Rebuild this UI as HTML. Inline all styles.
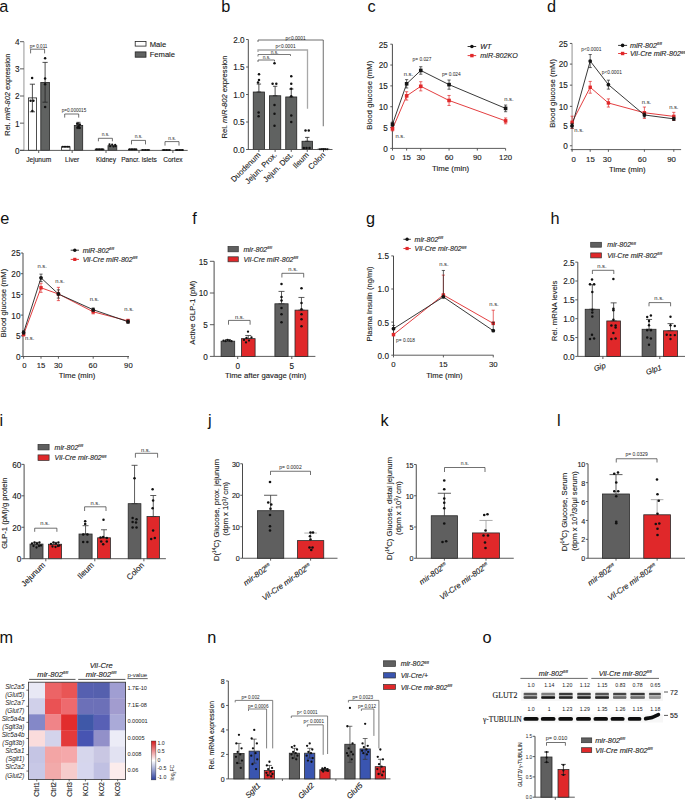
<!DOCTYPE html><html><head><meta charset="utf-8"><title>Figure</title>
<style>html,body{margin:0;padding:0;background:#fff;overflow:hidden;}svg{display:block;}text{font-family:"Liberation Sans",sans-serif;}text.s{stroke:#1a1a1a;stroke-width:0.12px;stroke-linejoin:round;}</style></head><body>
<svg width="685" height="800" viewBox="0 0 685 800">
<rect width="685" height="800" fill="#fff"/>
<text x="-0.8" y="11.7" font-size="16.3" fill="#111">a</text>
<line x1="23.9" y1="41.7" x2="23.9" y2="150.3" stroke="#b4b4b4" stroke-width="1.4"/>
<line x1="20" y1="150.3" x2="23.9" y2="150.3" stroke="#4a4a4a" stroke-width="0.9"/>
<text class="s" x="19.45" y="153.75" font-size="8.2" text-anchor="end" fill="#1a1a1a">0</text>
<line x1="20" y1="123.15" x2="23.9" y2="123.15" stroke="#4a4a4a" stroke-width="0.9"/>
<text class="s" x="19.45" y="126.6" font-size="8.2" text-anchor="end" fill="#1a1a1a">1</text>
<line x1="20" y1="96" x2="23.9" y2="96" stroke="#4a4a4a" stroke-width="0.9"/>
<text class="s" x="19.45" y="99.45" font-size="8.2" text-anchor="end" fill="#1a1a1a">2</text>
<line x1="20" y1="68.85" x2="23.9" y2="68.85" stroke="#4a4a4a" stroke-width="0.9"/>
<text class="s" x="19.45" y="72.3" font-size="8.2" text-anchor="end" fill="#1a1a1a">3</text>
<line x1="20" y1="41.7" x2="23.9" y2="41.7" stroke="#4a4a4a" stroke-width="0.9"/>
<text class="s" x="19.45" y="45.15" font-size="8.2" text-anchor="end" fill="#1a1a1a">4</text>
<text class="s" transform="translate(10,94.7) rotate(-90)" font-size="7.5" text-anchor="middle" fill="#1a1a1a">Rel. <tspan font-style="italic">miR-802</tspan> expression</text>
<rect x="28.4" y="97.9" width="8.2" height="52.4" fill="#ffffff" stroke="#222" stroke-width="0.8"/>
<rect x="40.8" y="82.43" width="8.7" height="67.88" fill="#606261" stroke="#222" stroke-width="0.8"/>
<text class="s" x="38.7" y="161.68" font-size="6.6" text-anchor="middle" fill="#1a1a1a">Jejunum</text>
<rect x="61.6" y="146.77" width="8.4" height="3.53" fill="#ffffff" stroke="#222" stroke-width="0.8"/>
<rect x="74.3" y="125.59" width="8.4" height="24.71" fill="#606261" stroke="#222" stroke-width="0.8"/>
<text class="s" x="72.15" y="161.68" font-size="6.6" text-anchor="middle" fill="#1a1a1a">Liver</text>
<rect x="95.2" y="149.21" width="8.8" height="1.09" fill="#ffffff" stroke="#222" stroke-width="0.8"/>
<rect x="108" y="145.68" width="8.8" height="4.62" fill="#606261" stroke="#222" stroke-width="0.8"/>
<text class="s" x="106" y="161.68" font-size="6.6" text-anchor="middle" fill="#1a1a1a">Kidney</text>
<rect x="128.5" y="149.21" width="8.5" height="1.09" fill="#ffffff" stroke="#222" stroke-width="0.8"/>
<rect x="141" y="149.97" width="8.7" height="0.33" fill="#606261" stroke="#222" stroke-width="0.8"/>
<text class="s" x="139" y="161.68" font-size="6.6" text-anchor="middle" fill="#1a1a1a">Pancr. islets</text>
<rect x="162" y="150.08" width="8.8" height="0.22" fill="#ffffff" stroke="#222" stroke-width="0.8"/>
<rect x="175" y="150.08" width="8.6" height="0.22" fill="#606261" stroke="#222" stroke-width="0.8"/>
<text class="s" x="172.9" y="161.68" font-size="6.6" text-anchor="middle" fill="#1a1a1a">Cortex</text>
<line x1="20" y1="150.4" x2="187.7" y2="150.4" stroke="#4a4a4a" stroke-width="0.9"/>
<line x1="38.7" y1="150.4" x2="38.7" y2="153" stroke="#4a4a4a" stroke-width="0.9"/>
<line x1="72.15" y1="150.4" x2="72.15" y2="153" stroke="#4a4a4a" stroke-width="0.9"/>
<line x1="106" y1="150.4" x2="106" y2="153" stroke="#4a4a4a" stroke-width="0.9"/>
<line x1="139" y1="150.4" x2="139" y2="153" stroke="#4a4a4a" stroke-width="0.9"/>
<line x1="172.9" y1="150.4" x2="172.9" y2="153" stroke="#4a4a4a" stroke-width="0.9"/>
<line x1="32.4" y1="84.2" x2="32.4" y2="111.8" stroke="#222" stroke-width="0.8"/>
<line x1="29.8" y1="84.2" x2="35" y2="84.2" stroke="#222" stroke-width="0.8"/>
<line x1="29.8" y1="111.8" x2="35" y2="111.8" stroke="#222" stroke-width="0.8"/>
<line x1="45.1" y1="62.4" x2="45.1" y2="102.2" stroke="#222" stroke-width="0.8"/>
<line x1="42.5" y1="62.4" x2="47.7" y2="62.4" stroke="#222" stroke-width="0.8"/>
<line x1="42.5" y1="102.2" x2="47.7" y2="102.2" stroke="#222" stroke-width="0.8"/>
<circle cx="32.1" cy="78.1" r="1.25" fill="#111"/>
<circle cx="30.6" cy="100.8" r="1.25" fill="#111"/>
<circle cx="33.4" cy="100.8" r="1.25" fill="#111"/>
<circle cx="32.4" cy="111" r="1.25" fill="#111"/>
<circle cx="45.1" cy="58.3" r="1.25" fill="#111"/>
<circle cx="45.1" cy="78.6" r="1.25" fill="#111"/>
<circle cx="45.1" cy="84.2" r="1.25" fill="#111"/>
<circle cx="45.1" cy="107" r="1.25" fill="#111"/>
<circle cx="62.6" cy="146.77" r="1" fill="#111"/>
<circle cx="64.2" cy="146.77" r="1" fill="#111"/>
<circle cx="65.8" cy="146.77" r="1" fill="#111"/>
<circle cx="67.4" cy="146.77" r="1" fill="#111"/>
<circle cx="69" cy="146.77" r="1" fill="#111"/>
<line x1="78.5" y1="122.34" x2="78.5" y2="128.58" stroke="#222" stroke-width="0.8"/>
<line x1="76.5" y1="122.34" x2="80.5" y2="122.34" stroke="#222" stroke-width="0.8"/>
<line x1="76.5" y1="128.58" x2="80.5" y2="128.58" stroke="#222" stroke-width="0.8"/>
<circle cx="77.2" cy="123.69" r="1.25" fill="#111"/>
<circle cx="79.8" cy="124.51" r="1.25" fill="#111"/>
<circle cx="78.5" cy="126.41" r="1.25" fill="#111"/>
<circle cx="77.5" cy="127.49" r="1.25" fill="#111"/>
<circle cx="79.6" cy="127.77" r="1.25" fill="#111"/>
<circle cx="96.4" cy="149.21" r="1" fill="#111"/>
<circle cx="98" cy="149.21" r="1" fill="#111"/>
<circle cx="99.6" cy="149.21" r="1" fill="#111"/>
<circle cx="101.2" cy="149.21" r="1" fill="#111"/>
<circle cx="102.8" cy="149.21" r="1" fill="#111"/>
<circle cx="109.5" cy="144.33" r="1.1" fill="#111"/>
<circle cx="112.2" cy="144.6" r="1.1" fill="#111"/>
<circle cx="115.2" cy="144.87" r="1.1" fill="#111"/>
<circle cx="110.2" cy="146.23" r="1.1" fill="#111"/>
<circle cx="113.5" cy="146.5" r="1.1" fill="#111"/>
<circle cx="115.5" cy="146.23" r="1.1" fill="#111"/>
<circle cx="129.6" cy="149.21" r="1" fill="#111"/>
<circle cx="131.2" cy="149.21" r="1" fill="#111"/>
<circle cx="132.8" cy="149.21" r="1" fill="#111"/>
<circle cx="134.4" cy="149.21" r="1" fill="#111"/>
<circle cx="136" cy="149.21" r="1" fill="#111"/>
<circle cx="142.4" cy="149.97" r="0.9" fill="#111"/>
<circle cx="144" cy="149.97" r="0.9" fill="#111"/>
<circle cx="145.6" cy="149.97" r="0.9" fill="#111"/>
<circle cx="147.2" cy="149.97" r="0.9" fill="#111"/>
<circle cx="148.8" cy="149.97" r="0.9" fill="#111"/>
<circle cx="163.2" cy="150.08" r="1" fill="#111"/>
<circle cx="164.8" cy="150.08" r="1" fill="#111"/>
<circle cx="166.4" cy="150.08" r="1" fill="#111"/>
<circle cx="168" cy="150.08" r="1" fill="#111"/>
<circle cx="169.6" cy="150.08" r="1" fill="#111"/>
<circle cx="176.2" cy="150.08" r="1" fill="#111"/>
<circle cx="177.8" cy="150.08" r="1" fill="#111"/>
<circle cx="179.4" cy="150.08" r="1" fill="#111"/>
<circle cx="181" cy="150.08" r="1" fill="#111"/>
<circle cx="182.6" cy="150.08" r="1" fill="#111"/>
<polyline points="30.6,53.4 30.6,49.2 44.6,49.2 44.6,53.4" fill="none" stroke="#333" stroke-width="0.7"/>
<text x="38.6" y="47.76" font-size="4.6" text-anchor="middle" fill="#1a1a1a">p= 0.011</text>
<polyline points="64.7,117.6 64.7,114 78.7,114 78.7,117.6" fill="none" stroke="#333" stroke-width="0.7"/>
<text x="74" y="112.06" font-size="4.6" text-anchor="middle" fill="#1a1a1a">p=0.000015</text>
<polyline points="98.4,141.3 98.4,138.3 112.4,138.3 112.4,141.3" fill="none" stroke="#333" stroke-width="0.7"/>
<text x="105.5" y="136.33" font-size="4.8" text-anchor="middle" fill="#1a1a1a">n.s.</text>
<polyline points="131.5,144.4 131.5,140.4 145.5,140.4 145.5,144.4" fill="none" stroke="#333" stroke-width="0.7"/>
<text x="138.5" y="138.33" font-size="4.8" text-anchor="middle" fill="#1a1a1a">n.s.</text>
<polyline points="165,145.6 165,141.6 179,141.6 179,145.6" fill="none" stroke="#333" stroke-width="0.7"/>
<text x="172" y="139.53" font-size="4.8" text-anchor="middle" fill="#1a1a1a">n.s.</text>
<rect x="135.2" y="41.4" width="10.8" height="4.7" fill="#fff" stroke="#222" stroke-width="0.8"/>
<rect x="135.2" y="51.9" width="10.8" height="5.3" fill="#606261" stroke="#222" stroke-width="0.8"/>
<text class="s" x="149.7" y="46.54" font-size="7.6" text-anchor="start" fill="#1a1a1a">Male</text>
<text class="s" x="149.7" y="57.24" font-size="7.6" text-anchor="start" fill="#1a1a1a">Female</text>
<text x="221.2" y="11.7" font-size="16.3" fill="#111">b</text>
<line x1="248.3" y1="39.5" x2="248.3" y2="149.5" stroke="#4a4a4a" stroke-width="1.0"/>
<line x1="246.1" y1="149.5" x2="248.3" y2="149.5" stroke="#4a4a4a" stroke-width="0.9"/>
<text class="s" x="244.55" y="152.95" font-size="8.2" text-anchor="end" fill="#1a1a1a">0.0</text>
<line x1="246.1" y1="122" x2="248.3" y2="122" stroke="#4a4a4a" stroke-width="0.9"/>
<text class="s" x="244.55" y="125.45" font-size="8.2" text-anchor="end" fill="#1a1a1a">0.5</text>
<line x1="246.1" y1="94.5" x2="248.3" y2="94.5" stroke="#4a4a4a" stroke-width="0.9"/>
<text class="s" x="244.55" y="97.95" font-size="8.2" text-anchor="end" fill="#1a1a1a">1.0</text>
<line x1="246.1" y1="67" x2="248.3" y2="67" stroke="#4a4a4a" stroke-width="0.9"/>
<text class="s" x="244.55" y="70.45" font-size="8.2" text-anchor="end" fill="#1a1a1a">1.5</text>
<line x1="246.1" y1="39.5" x2="248.3" y2="39.5" stroke="#4a4a4a" stroke-width="0.9"/>
<text class="s" x="244.55" y="42.95" font-size="8.2" text-anchor="end" fill="#1a1a1a">2.0</text>
<text class="s" transform="translate(226.84,97) rotate(-90)" font-size="7.6" text-anchor="middle" fill="#1a1a1a">Rel. <tspan font-style="italic">miR-802</tspan> expression</text>
<rect x="253.25" y="92.03" width="11.25" height="57.47" fill="#606261" stroke="#222" stroke-width="0.8"/>
<line x1="258.88" y1="84.05" x2="258.88" y2="92.03" stroke="#222" stroke-width="0.8"/>
<line x1="256.68" y1="84.05" x2="261.07" y2="84.05" stroke="#222" stroke-width="0.8"/>
<line x1="256.68" y1="92.03" x2="261.07" y2="92.03" stroke="#222" stroke-width="0.8"/>
<rect x="269.5" y="95.77" width="11.25" height="53.73" fill="#606261" stroke="#222" stroke-width="0.8"/>
<line x1="275.12" y1="86.25" x2="275.12" y2="95.77" stroke="#222" stroke-width="0.8"/>
<line x1="272.93" y1="86.25" x2="277.32" y2="86.25" stroke="#222" stroke-width="0.8"/>
<line x1="272.93" y1="95.77" x2="277.32" y2="95.77" stroke="#222" stroke-width="0.8"/>
<rect x="285.75" y="96.97" width="11" height="52.53" fill="#606261" stroke="#222" stroke-width="0.8"/>
<line x1="291.25" y1="89" x2="291.25" y2="96.97" stroke="#222" stroke-width="0.8"/>
<line x1="289.05" y1="89" x2="293.45" y2="89" stroke="#222" stroke-width="0.8"/>
<line x1="289.05" y1="96.97" x2="293.45" y2="96.97" stroke="#222" stroke-width="0.8"/>
<rect x="302" y="141.25" width="10.5" height="8.25" fill="#606261" stroke="#222" stroke-width="0.8"/>
<line x1="307.25" y1="137.4" x2="307.25" y2="141.25" stroke="#222" stroke-width="0.8"/>
<line x1="305.05" y1="137.4" x2="309.45" y2="137.4" stroke="#222" stroke-width="0.8"/>
<line x1="305.05" y1="141.25" x2="309.45" y2="141.25" stroke="#222" stroke-width="0.8"/>
<rect x="318" y="149.06" width="11" height="0.44" fill="#606261" stroke="#222" stroke-width="0.8"/>
<line x1="323.5" y1="148.95" x2="323.5" y2="149.06" stroke="#222" stroke-width="0.8"/>
<line x1="321.3" y1="148.95" x2="325.7" y2="148.95" stroke="#222" stroke-width="0.8"/>
<line x1="321.3" y1="149.06" x2="325.7" y2="149.06" stroke="#222" stroke-width="0.8"/>
<line x1="248" y1="149.5" x2="332.5" y2="149.5" stroke="#4a4a4a" stroke-width="0.9"/>
<line x1="258.88" y1="149.5" x2="258.88" y2="151.9" stroke="#4a4a4a" stroke-width="0.9"/>
<line x1="275.12" y1="149.5" x2="275.12" y2="151.9" stroke="#4a4a4a" stroke-width="0.9"/>
<line x1="291.25" y1="149.5" x2="291.25" y2="151.9" stroke="#4a4a4a" stroke-width="0.9"/>
<line x1="307.25" y1="149.5" x2="307.25" y2="151.9" stroke="#4a4a4a" stroke-width="0.9"/>
<line x1="323.5" y1="149.5" x2="323.5" y2="151.9" stroke="#4a4a4a" stroke-width="0.9"/>
<text class="s" transform="translate(261.07,155.5) rotate(-45)" font-size="7.8" text-anchor="end" fill="#1a1a1a">Duodenum</text>
<text class="s" transform="translate(277.32,155.5) rotate(-45)" font-size="7.8" text-anchor="end" fill="#1a1a1a">Jejun. Prox.</text>
<text class="s" transform="translate(293.45,155.5) rotate(-45)" font-size="7.8" text-anchor="end" fill="#1a1a1a">Jejun. Dist.</text>
<text class="s" transform="translate(309.45,155.5) rotate(-45)" font-size="7.8" text-anchor="end" fill="#1a1a1a">Ileum</text>
<text class="s" transform="translate(325.7,155.5) rotate(-45)" font-size="7.8" text-anchor="end" fill="#1a1a1a">Colon</text>
<circle cx="259" cy="74.25" r="1.25" fill="#111"/>
<circle cx="259" cy="80" r="1.25" fill="#111"/>
<circle cx="258" cy="82.5" r="1.25" fill="#111"/>
<circle cx="258.6" cy="112.5" r="1.25" fill="#111"/>
<circle cx="258.6" cy="116.25" r="1.25" fill="#111"/>
<circle cx="274.5" cy="63.25" r="1.25" fill="#111"/>
<circle cx="272.6" cy="83.75" r="1.25" fill="#111"/>
<circle cx="276.3" cy="83.75" r="1.25" fill="#111"/>
<circle cx="274.5" cy="105" r="1.25" fill="#111"/>
<circle cx="274.5" cy="113.75" r="1.25" fill="#111"/>
<circle cx="274.5" cy="125.75" r="1.25" fill="#111"/>
<circle cx="291.25" cy="76.25" r="1.25" fill="#111"/>
<circle cx="291.25" cy="83.75" r="1.25" fill="#111"/>
<circle cx="291.25" cy="88.75" r="1.25" fill="#111"/>
<circle cx="291.25" cy="96.25" r="1.25" fill="#111"/>
<circle cx="291.25" cy="115.5" r="1.25" fill="#111"/>
<circle cx="291.25" cy="122" r="1.25" fill="#111"/>
<circle cx="305.5" cy="130.5" r="1.25" fill="#111"/>
<circle cx="308.75" cy="130.5" r="1.25" fill="#111"/>
<circle cx="303.8" cy="148" r="1.25" fill="#111"/>
<circle cx="306.5" cy="148" r="1.25" fill="#111"/>
<circle cx="309.5" cy="148" r="1.25" fill="#111"/>
<circle cx="320" cy="149.2" r="1" fill="#111"/>
<circle cx="321.8" cy="149.2" r="1" fill="#111"/>
<circle cx="323.6" cy="149.2" r="1" fill="#111"/>
<circle cx="325.4" cy="149.2" r="1" fill="#111"/>
<circle cx="327.2" cy="149.2" r="1" fill="#111"/>
<polyline points="258,62 258,60 274.5,60 274.5,61.5" fill="none" stroke="#404040" stroke-width="0.75"/>
<polyline points="258,56.5 258,54.5 290.5,54.5 290.5,56" fill="none" stroke="#505050" stroke-width="0.75"/>
<polyline points="258,52 258,50 307.5,50 307.5,108.75" fill="none" stroke="#a8a8a8" stroke-width="1.3"/>
<polyline points="258,42 258,40 323.25,40 323.25,126.25" fill="none" stroke="#4a4a4a" stroke-width="0.8"/>
<text x="266.5" y="59.03" font-size="4.8" text-anchor="middle" fill="#1a1a1a">n.s.</text>
<text x="274.5" y="53.73" font-size="4.8" text-anchor="middle" fill="#1a1a1a">n.s.</text>
<text x="285.5" y="48.23" font-size="4.8" text-anchor="middle" fill="#1a1a1a">p&lt;0.0001</text>
<text x="295.5" y="39.93" font-size="4.8" text-anchor="middle" fill="#1a1a1a">p&lt;0.0001</text>
<text x="367.4" y="11.7" font-size="16.3" fill="#111">c</text>
<line x1="392.4" y1="44.2" x2="392.4" y2="148.4" stroke="#4a4a4a" stroke-width="1.0"/>
<line x1="390.3" y1="148.4" x2="392.4" y2="148.4" stroke="#4a4a4a" stroke-width="0.9"/>
<text class="s" x="387.75" y="151.85" font-size="8.2" text-anchor="end" fill="#1a1a1a">0</text>
<line x1="390.3" y1="127.56" x2="392.4" y2="127.56" stroke="#4a4a4a" stroke-width="0.9"/>
<text class="s" x="387.75" y="131.01" font-size="8.2" text-anchor="end" fill="#1a1a1a">5</text>
<line x1="390.3" y1="106.72" x2="392.4" y2="106.72" stroke="#4a4a4a" stroke-width="0.9"/>
<text class="s" x="387.75" y="110.17" font-size="8.2" text-anchor="end" fill="#1a1a1a">10</text>
<line x1="390.3" y1="85.88" x2="392.4" y2="85.88" stroke="#4a4a4a" stroke-width="0.9"/>
<text class="s" x="387.75" y="89.33" font-size="8.2" text-anchor="end" fill="#1a1a1a">15</text>
<line x1="390.3" y1="65.04" x2="392.4" y2="65.04" stroke="#4a4a4a" stroke-width="0.9"/>
<text class="s" x="387.75" y="68.49" font-size="8.2" text-anchor="end" fill="#1a1a1a">20</text>
<line x1="390.3" y1="44.2" x2="392.4" y2="44.2" stroke="#4a4a4a" stroke-width="0.9"/>
<text class="s" x="387.75" y="47.65" font-size="8.2" text-anchor="end" fill="#1a1a1a">25</text>
<line x1="392.3" y1="148.4" x2="505.5" y2="148.4" stroke="#4a4a4a" stroke-width="0.9"/>
<line x1="392.5" y1="148.4" x2="392.5" y2="150.6" stroke="#4a4a4a" stroke-width="0.9"/>
<line x1="406.64" y1="148.4" x2="406.64" y2="150.6" stroke="#4a4a4a" stroke-width="0.9"/>
<line x1="420.77" y1="148.4" x2="420.77" y2="150.6" stroke="#4a4a4a" stroke-width="0.9"/>
<line x1="449.05" y1="148.4" x2="449.05" y2="150.6" stroke="#4a4a4a" stroke-width="0.9"/>
<line x1="477.32" y1="148.4" x2="477.32" y2="150.6" stroke="#4a4a4a" stroke-width="0.9"/>
<line x1="505.6" y1="148.4" x2="505.6" y2="150.6" stroke="#4a4a4a" stroke-width="0.9"/>
<text class="s" x="392.5" y="160.41" font-size="7.8" text-anchor="middle" fill="#1a1a1a">0</text>
<text class="s" x="406.64" y="160.41" font-size="7.8" text-anchor="middle" fill="#1a1a1a">15</text>
<text class="s" x="420.77" y="160.41" font-size="7.8" text-anchor="middle" fill="#1a1a1a">30</text>
<text class="s" x="449.05" y="160.41" font-size="7.8" text-anchor="middle" fill="#1a1a1a">60</text>
<text class="s" x="477.32" y="160.41" font-size="7.8" text-anchor="middle" fill="#1a1a1a">90</text>
<text class="s" x="505.6" y="160.41" font-size="7.8" text-anchor="middle" fill="#1a1a1a">120</text>
<text class="s" x="450.6" y="171.41" font-size="7.8" text-anchor="middle" fill="#1a1a1a">Time (min)</text>
<text class="s" transform="translate(371.79,95.25) rotate(-90)" font-size="7.75" text-anchor="middle" fill="#1a1a1a">Blood glucose (mM)</text>
<polyline points="392.5,128.81 406.64,95.88 420.77,86.3 449.05,100.47 505.6,120.89" fill="none" stroke="#e0282a" stroke-width="0.9"/>
<polyline points="392.5,124.23 406.64,83.8 420.77,70.46 449.05,84.63 505.6,108.39" fill="none" stroke="#222" stroke-width="0.9"/>
<line x1="392.5" y1="126.73" x2="392.5" y2="130.89" stroke="#e0282a" stroke-width="0.7"/>
<line x1="390.9" y1="126.73" x2="394.1" y2="126.73" stroke="#e0282a" stroke-width="0.7"/>
<line x1="390.9" y1="130.89" x2="394.1" y2="130.89" stroke="#e0282a" stroke-width="0.7"/>
<rect x="390.7" y="127.01" width="3.6" height="3.6" fill="#e0282a"/>
<line x1="406.64" y1="91.72" x2="406.64" y2="100.05" stroke="#e0282a" stroke-width="0.7"/>
<line x1="405.04" y1="91.72" x2="408.24" y2="91.72" stroke="#e0282a" stroke-width="0.7"/>
<line x1="405.04" y1="100.05" x2="408.24" y2="100.05" stroke="#e0282a" stroke-width="0.7"/>
<rect x="404.84" y="94.08" width="3.6" height="3.6" fill="#e0282a"/>
<line x1="420.77" y1="81.71" x2="420.77" y2="90.88" stroke="#e0282a" stroke-width="0.7"/>
<line x1="419.17" y1="81.71" x2="422.38" y2="81.71" stroke="#e0282a" stroke-width="0.7"/>
<line x1="419.17" y1="90.88" x2="422.38" y2="90.88" stroke="#e0282a" stroke-width="0.7"/>
<rect x="418.97" y="84.5" width="3.6" height="3.6" fill="#e0282a"/>
<line x1="449.05" y1="95.47" x2="449.05" y2="105.47" stroke="#e0282a" stroke-width="0.7"/>
<line x1="447.45" y1="95.47" x2="450.65" y2="95.47" stroke="#e0282a" stroke-width="0.7"/>
<line x1="447.45" y1="105.47" x2="450.65" y2="105.47" stroke="#e0282a" stroke-width="0.7"/>
<rect x="447.25" y="98.67" width="3.6" height="3.6" fill="#e0282a"/>
<line x1="505.6" y1="117.97" x2="505.6" y2="123.81" stroke="#e0282a" stroke-width="0.7"/>
<line x1="504" y1="117.97" x2="507.2" y2="117.97" stroke="#e0282a" stroke-width="0.7"/>
<line x1="504" y1="123.81" x2="507.2" y2="123.81" stroke="#e0282a" stroke-width="0.7"/>
<rect x="503.8" y="119.09" width="3.6" height="3.6" fill="#e0282a"/>
<line x1="392.5" y1="122.14" x2="392.5" y2="126.31" stroke="#222" stroke-width="0.7"/>
<line x1="390.9" y1="122.14" x2="394.1" y2="122.14" stroke="#222" stroke-width="0.7"/>
<line x1="390.9" y1="126.31" x2="394.1" y2="126.31" stroke="#222" stroke-width="0.7"/>
<rect x="390.7" y="122.43" width="3.6" height="3.6" fill="#151515"/>
<line x1="406.64" y1="79.63" x2="406.64" y2="87.96" stroke="#222" stroke-width="0.7"/>
<line x1="405.04" y1="79.63" x2="408.24" y2="79.63" stroke="#222" stroke-width="0.7"/>
<line x1="405.04" y1="87.96" x2="408.24" y2="87.96" stroke="#222" stroke-width="0.7"/>
<rect x="404.84" y="82" width="3.6" height="3.6" fill="#151515"/>
<line x1="420.77" y1="66.71" x2="420.77" y2="74.21" stroke="#222" stroke-width="0.7"/>
<line x1="419.17" y1="66.71" x2="422.38" y2="66.71" stroke="#222" stroke-width="0.7"/>
<line x1="419.17" y1="74.21" x2="422.38" y2="74.21" stroke="#222" stroke-width="0.7"/>
<rect x="418.97" y="68.66" width="3.6" height="3.6" fill="#151515"/>
<line x1="449.05" y1="80.04" x2="449.05" y2="89.21" stroke="#222" stroke-width="0.7"/>
<line x1="447.45" y1="80.04" x2="450.65" y2="80.04" stroke="#222" stroke-width="0.7"/>
<line x1="447.45" y1="89.21" x2="450.65" y2="89.21" stroke="#222" stroke-width="0.7"/>
<rect x="447.25" y="82.83" width="3.6" height="3.6" fill="#151515"/>
<line x1="505.6" y1="105.05" x2="505.6" y2="111.72" stroke="#222" stroke-width="0.7"/>
<line x1="504" y1="105.05" x2="507.2" y2="105.05" stroke="#222" stroke-width="0.7"/>
<line x1="504" y1="111.72" x2="507.2" y2="111.72" stroke="#222" stroke-width="0.7"/>
<rect x="503.8" y="106.59" width="3.6" height="3.6" fill="#151515"/>
<line x1="467.6" y1="46.5" x2="476.2" y2="46.5" stroke="#222" stroke-width="0.9"/>
<circle cx="471.9" cy="46.5" r="1.8" fill="#111"/>
<line x1="467.6" y1="55.6" x2="476.2" y2="55.6" stroke="#e0282a" stroke-width="0.9"/>
<rect x="470.2" y="53.9" width="3.4" height="3.4" fill="#e0282a"/>
<text class="s" x="480.3" y="49.29" font-size="7.2" text-anchor="start" font-style="italic" fill="#1a1a1a">WT</text>
<text class="s" x="480.3" y="58.49" font-size="7.2" text-anchor="start" font-style="italic" fill="#1a1a1a">miR-802KO</text>
<text x="422" y="61.33" font-size="4.8" text-anchor="middle" fill="#1a1a1a">p= 0.027</text>
<text x="408.4" y="75.59" font-size="5.8" text-anchor="middle" fill="#1a1a1a">n.s.</text>
<text x="451.3" y="76.23" font-size="4.8" text-anchor="middle" fill="#1a1a1a">p= 0.024</text>
<text x="508.9" y="100.89" font-size="5.8" text-anchor="middle" fill="#1a1a1a">n.s.</text>
<text x="400.2" y="137.89" font-size="5.8" text-anchor="middle" fill="#1a1a1a">n.s.</text>
<text x="546.9" y="11.7" font-size="16.3" fill="#111">d</text>
<line x1="572.1" y1="43.55" x2="572.1" y2="150.5" stroke="#b0b0b0" stroke-width="1.4"/>
<line x1="569.9" y1="145.75" x2="572.1" y2="145.75" stroke="#4a4a4a" stroke-width="0.9"/>
<text class="s" x="567.8" y="149" font-size="8.2" text-anchor="end" fill="#1a1a1a">0</text>
<line x1="569.9" y1="126.2" x2="572.1" y2="126.2" stroke="#4a4a4a" stroke-width="0.9"/>
<text class="s" x="567.8" y="129.45" font-size="8.2" text-anchor="end" fill="#1a1a1a">5</text>
<line x1="569.9" y1="106.35" x2="572.1" y2="106.35" stroke="#4a4a4a" stroke-width="0.9"/>
<text class="s" x="567.8" y="109.6" font-size="8.2" text-anchor="end" fill="#1a1a1a">10</text>
<line x1="569.9" y1="85.15" x2="572.1" y2="85.15" stroke="#4a4a4a" stroke-width="0.9"/>
<text class="s" x="567.8" y="88.4" font-size="8.2" text-anchor="end" fill="#1a1a1a">15</text>
<line x1="569.9" y1="64.1" x2="572.1" y2="64.1" stroke="#4a4a4a" stroke-width="0.9"/>
<text class="s" x="567.8" y="67.35" font-size="8.2" text-anchor="end" fill="#1a1a1a">20</text>
<line x1="569.9" y1="43.45" x2="572.1" y2="43.45" stroke="#4a4a4a" stroke-width="0.9"/>
<text class="s" x="567.8" y="46.7" font-size="8.2" text-anchor="end" fill="#1a1a1a">25</text>
<line x1="570.7" y1="149.6" x2="681.1" y2="149.6" stroke="#4a4a4a" stroke-width="0.9"/>
<line x1="572.1" y1="149.6" x2="572.1" y2="151.8" stroke="#4a4a4a" stroke-width="0.9"/>
<line x1="590.2" y1="149.6" x2="590.2" y2="151.8" stroke="#4a4a4a" stroke-width="0.9"/>
<line x1="608.4" y1="149.6" x2="608.4" y2="151.8" stroke="#4a4a4a" stroke-width="0.9"/>
<line x1="644.4" y1="149.6" x2="644.4" y2="151.8" stroke="#4a4a4a" stroke-width="0.9"/>
<line x1="673.8" y1="149.6" x2="673.8" y2="151.8" stroke="#4a4a4a" stroke-width="0.9"/>
<text class="s" x="573.6" y="162.21" font-size="7.8" text-anchor="middle" fill="#1a1a1a">0</text>
<text class="s" x="590.4" y="162.21" font-size="7.8" text-anchor="middle" fill="#1a1a1a">15</text>
<text class="s" x="607.2" y="162.21" font-size="7.8" text-anchor="middle" fill="#1a1a1a">30</text>
<text class="s" x="642.2" y="162.21" font-size="7.8" text-anchor="middle" fill="#1a1a1a">60</text>
<text class="s" x="671.6" y="162.21" font-size="7.8" text-anchor="middle" fill="#1a1a1a">90</text>
<text class="s" x="627.3" y="172.47" font-size="7.7" text-anchor="middle" fill="#1a1a1a">Time (min)</text>
<text class="s" transform="translate(554.99,93.4) rotate(-90)" font-size="7.75" text-anchor="middle" fill="#1a1a1a">Blood glucose (mM)</text>
<polyline points="572.1,122.3 590.2,87.3 608.4,102.97 644.4,112.74 673.8,116.4" fill="none" stroke="#e0282a" stroke-width="0.9"/>
<polyline points="572.1,125.76 590.2,61.05 608.4,84.66 644.4,114.98 673.8,118.85" fill="none" stroke="#222" stroke-width="0.9"/>
<line x1="572.1" y1="116.2" x2="572.1" y2="128.41" stroke="#e0282a" stroke-width="0.7"/>
<line x1="570.5" y1="116.2" x2="573.7" y2="116.2" stroke="#e0282a" stroke-width="0.7"/>
<line x1="570.5" y1="128.41" x2="573.7" y2="128.41" stroke="#e0282a" stroke-width="0.7"/>
<rect x="570.4" y="120.6" width="3.4" height="3.4" fill="#e0282a"/>
<line x1="590.2" y1="81.4" x2="590.2" y2="93.2" stroke="#e0282a" stroke-width="0.7"/>
<line x1="588.6" y1="81.4" x2="591.8" y2="81.4" stroke="#e0282a" stroke-width="0.7"/>
<line x1="588.6" y1="93.2" x2="591.8" y2="93.2" stroke="#e0282a" stroke-width="0.7"/>
<rect x="588.5" y="85.6" width="3.4" height="3.4" fill="#e0282a"/>
<line x1="608.4" y1="98.9" x2="608.4" y2="107.04" stroke="#e0282a" stroke-width="0.7"/>
<line x1="606.8" y1="98.9" x2="610" y2="98.9" stroke="#e0282a" stroke-width="0.7"/>
<line x1="606.8" y1="107.04" x2="610" y2="107.04" stroke="#e0282a" stroke-width="0.7"/>
<rect x="606.7" y="101.27" width="3.4" height="3.4" fill="#e0282a"/>
<line x1="644.4" y1="107.04" x2="644.4" y2="118.44" stroke="#e0282a" stroke-width="0.7"/>
<line x1="642.8" y1="107.04" x2="646" y2="107.04" stroke="#e0282a" stroke-width="0.7"/>
<line x1="642.8" y1="118.44" x2="646" y2="118.44" stroke="#e0282a" stroke-width="0.7"/>
<rect x="642.7" y="111.04" width="3.4" height="3.4" fill="#e0282a"/>
<line x1="673.8" y1="112.33" x2="673.8" y2="120.47" stroke="#e0282a" stroke-width="0.7"/>
<line x1="672.2" y1="112.33" x2="675.4" y2="112.33" stroke="#e0282a" stroke-width="0.7"/>
<line x1="672.2" y1="120.47" x2="675.4" y2="120.47" stroke="#e0282a" stroke-width="0.7"/>
<rect x="672.1" y="114.7" width="3.4" height="3.4" fill="#e0282a"/>
<line x1="572.1" y1="123.32" x2="572.1" y2="128.21" stroke="#222" stroke-width="0.7"/>
<line x1="570.5" y1="123.32" x2="573.7" y2="123.32" stroke="#222" stroke-width="0.7"/>
<line x1="570.5" y1="128.21" x2="573.7" y2="128.21" stroke="#222" stroke-width="0.7"/>
<circle cx="572.1" cy="125.76" r="1.9" fill="#151515"/>
<line x1="590.2" y1="54.54" x2="590.2" y2="67.56" stroke="#222" stroke-width="0.7"/>
<line x1="588.6" y1="54.54" x2="591.8" y2="54.54" stroke="#222" stroke-width="0.7"/>
<line x1="588.6" y1="67.56" x2="591.8" y2="67.56" stroke="#222" stroke-width="0.7"/>
<circle cx="590.2" cy="61.05" r="1.9" fill="#151515"/>
<line x1="608.4" y1="80.18" x2="608.4" y2="89.13" stroke="#222" stroke-width="0.7"/>
<line x1="606.8" y1="80.18" x2="610" y2="80.18" stroke="#222" stroke-width="0.7"/>
<line x1="606.8" y1="89.13" x2="610" y2="89.13" stroke="#222" stroke-width="0.7"/>
<circle cx="608.4" cy="84.66" r="1.9" fill="#151515"/>
<line x1="644.4" y1="112.94" x2="644.4" y2="117.01" stroke="#222" stroke-width="0.7"/>
<line x1="642.8" y1="112.94" x2="646" y2="112.94" stroke="#222" stroke-width="0.7"/>
<line x1="642.8" y1="117.01" x2="646" y2="117.01" stroke="#222" stroke-width="0.7"/>
<circle cx="644.4" cy="114.98" r="1.9" fill="#151515"/>
<line x1="673.8" y1="117.22" x2="673.8" y2="120.47" stroke="#222" stroke-width="0.7"/>
<line x1="672.2" y1="117.22" x2="675.4" y2="117.22" stroke="#222" stroke-width="0.7"/>
<line x1="672.2" y1="120.47" x2="675.4" y2="120.47" stroke="#222" stroke-width="0.7"/>
<circle cx="673.8" cy="118.85" r="1.9" fill="#151515"/>
<line x1="618.1" y1="45.4" x2="627.1" y2="45.4" stroke="#222" stroke-width="0.9"/>
<circle cx="622.6" cy="45.4" r="1.8" fill="#111"/>
<line x1="618.1" y1="53.5" x2="627.1" y2="53.5" stroke="#e0282a" stroke-width="0.9"/>
<rect x="620.9" y="51.8" width="3.4" height="3.4" fill="#e0282a"/>
<text class="s" x="629.9" y="47.99" font-size="7.2" text-anchor="start" font-style="italic" fill="#1a1a1a">miR-802<tspan font-size="3.74" dy="-2.59">fl/fl</tspan></text>
<text class="s" x="629.9" y="56.19" font-size="7.2" text-anchor="start" font-style="italic" fill="#1a1a1a">Vil-Cre miR-802<tspan font-size="3.74" dy="-2.59">fl/fl</tspan></text>
<text x="591.4" y="51.33" font-size="4.8" text-anchor="middle" fill="#1a1a1a">p&lt;0.0001</text>
<text x="611.8" y="74.23" font-size="4.8" text-anchor="middle" fill="#1a1a1a">p&lt;0.0001</text>
<text x="646.5" y="103.89" font-size="5.8" text-anchor="middle" fill="#1a1a1a">n.s.</text>
<text x="673.8" y="109.29" font-size="5.8" text-anchor="middle" fill="#1a1a1a">n.s.</text>
<text x="579" y="132.39" font-size="5.8" text-anchor="middle" fill="#1a1a1a">n.s.</text>
<text x="0.2" y="223.5" font-size="16.3" fill="#111">e</text>
<line x1="23" y1="253" x2="23" y2="356.5" stroke="#4a4a4a" stroke-width="1.0"/>
<line x1="20.8" y1="356.5" x2="23" y2="356.5" stroke="#4a4a4a" stroke-width="0.9"/>
<text class="s" x="20.45" y="359.95" font-size="8.2" text-anchor="end" fill="#1a1a1a">0</text>
<line x1="20.8" y1="335.8" x2="23" y2="335.8" stroke="#4a4a4a" stroke-width="0.9"/>
<text class="s" x="20.45" y="339.25" font-size="8.2" text-anchor="end" fill="#1a1a1a">5</text>
<line x1="20.8" y1="315.1" x2="23" y2="315.1" stroke="#4a4a4a" stroke-width="0.9"/>
<text class="s" x="20.45" y="318.55" font-size="8.2" text-anchor="end" fill="#1a1a1a">10</text>
<line x1="20.8" y1="294.4" x2="23" y2="294.4" stroke="#4a4a4a" stroke-width="0.9"/>
<text class="s" x="20.45" y="297.85" font-size="8.2" text-anchor="end" fill="#1a1a1a">15</text>
<line x1="20.8" y1="273.7" x2="23" y2="273.7" stroke="#4a4a4a" stroke-width="0.9"/>
<text class="s" x="20.45" y="277.15" font-size="8.2" text-anchor="end" fill="#1a1a1a">20</text>
<line x1="20.8" y1="253" x2="23" y2="253" stroke="#4a4a4a" stroke-width="0.9"/>
<text class="s" x="20.45" y="256.45" font-size="8.2" text-anchor="end" fill="#1a1a1a">25</text>
<line x1="23" y1="356.5" x2="129" y2="356.5" stroke="#4a4a4a" stroke-width="0.9"/>
<line x1="23.6" y1="356.5" x2="23.6" y2="358.7" stroke="#4a4a4a" stroke-width="0.9"/>
<line x1="41" y1="356.5" x2="41" y2="358.7" stroke="#4a4a4a" stroke-width="0.9"/>
<line x1="58.4" y1="356.5" x2="58.4" y2="358.7" stroke="#4a4a4a" stroke-width="0.9"/>
<line x1="93.2" y1="356.5" x2="93.2" y2="358.7" stroke="#4a4a4a" stroke-width="0.9"/>
<line x1="128" y1="356.5" x2="128" y2="358.7" stroke="#4a4a4a" stroke-width="0.9"/>
<text class="s" x="24.4" y="368.07" font-size="7.7" text-anchor="middle" fill="#1a1a1a">0</text>
<text class="s" x="41" y="368.07" font-size="7.7" text-anchor="middle" fill="#1a1a1a">15</text>
<text class="s" x="58.3" y="368.07" font-size="7.7" text-anchor="middle" fill="#1a1a1a">30</text>
<text class="s" x="92.9" y="368.07" font-size="7.7" text-anchor="middle" fill="#1a1a1a">60</text>
<text class="s" x="128.4" y="368.07" font-size="7.7" text-anchor="middle" fill="#1a1a1a">90</text>
<text class="s" x="77.1" y="377.67" font-size="7.7" text-anchor="middle" fill="#1a1a1a">Time (min)</text>
<text class="s" transform="translate(6.09,303.1) rotate(-90)" font-size="7.75" text-anchor="middle" fill="#1a1a1a">Blood glucose (mM)</text>
<polyline points="23.6,334.56 41,287.78 58.4,293.99 93.2,311.79 128,320.9" fill="none" stroke="#e0282a" stroke-width="0.9"/>
<polyline points="23.6,332.49 41,277.84 58.4,293.99 93.2,309.72 128,321.72" fill="none" stroke="#222" stroke-width="0.9"/>
<line x1="23.6" y1="333.32" x2="23.6" y2="335.8" stroke="#e0282a" stroke-width="0.7"/>
<line x1="22" y1="333.32" x2="25.2" y2="333.32" stroke="#e0282a" stroke-width="0.7"/>
<line x1="22" y1="335.8" x2="25.2" y2="335.8" stroke="#e0282a" stroke-width="0.7"/>
<rect x="21.9" y="332.86" width="3.4" height="3.4" fill="#e0282a"/>
<line x1="41" y1="283.22" x2="41" y2="292.33" stroke="#e0282a" stroke-width="0.7"/>
<line x1="39.4" y1="283.22" x2="42.6" y2="283.22" stroke="#e0282a" stroke-width="0.7"/>
<line x1="39.4" y1="292.33" x2="42.6" y2="292.33" stroke="#e0282a" stroke-width="0.7"/>
<rect x="39.3" y="286.08" width="3.4" height="3.4" fill="#e0282a"/>
<line x1="58.4" y1="287.36" x2="58.4" y2="300.61" stroke="#e0282a" stroke-width="0.7"/>
<line x1="56.8" y1="287.36" x2="60" y2="287.36" stroke="#e0282a" stroke-width="0.7"/>
<line x1="56.8" y1="300.61" x2="60" y2="300.61" stroke="#e0282a" stroke-width="0.7"/>
<rect x="56.7" y="292.29" width="3.4" height="3.4" fill="#e0282a"/>
<line x1="93.2" y1="309.72" x2="93.2" y2="313.86" stroke="#e0282a" stroke-width="0.7"/>
<line x1="91.6" y1="309.72" x2="94.8" y2="309.72" stroke="#e0282a" stroke-width="0.7"/>
<line x1="91.6" y1="313.86" x2="94.8" y2="313.86" stroke="#e0282a" stroke-width="0.7"/>
<rect x="91.5" y="310.09" width="3.4" height="3.4" fill="#e0282a"/>
<line x1="128" y1="319.24" x2="128" y2="322.55" stroke="#e0282a" stroke-width="0.7"/>
<line x1="126.4" y1="319.24" x2="129.6" y2="319.24" stroke="#e0282a" stroke-width="0.7"/>
<line x1="126.4" y1="322.55" x2="129.6" y2="322.55" stroke="#e0282a" stroke-width="0.7"/>
<rect x="126.3" y="319.2" width="3.4" height="3.4" fill="#e0282a"/>
<line x1="23.6" y1="330.83" x2="23.6" y2="334.14" stroke="#222" stroke-width="0.7"/>
<line x1="22" y1="330.83" x2="25.2" y2="330.83" stroke="#222" stroke-width="0.7"/>
<line x1="22" y1="334.14" x2="25.2" y2="334.14" stroke="#222" stroke-width="0.7"/>
<circle cx="23.6" cy="332.49" r="1.9" fill="#151515"/>
<line x1="41" y1="274.11" x2="41" y2="281.57" stroke="#222" stroke-width="0.7"/>
<line x1="39.4" y1="274.11" x2="42.6" y2="274.11" stroke="#222" stroke-width="0.7"/>
<line x1="39.4" y1="281.57" x2="42.6" y2="281.57" stroke="#222" stroke-width="0.7"/>
<circle cx="41" cy="277.84" r="1.9" fill="#151515"/>
<line x1="58.4" y1="289.85" x2="58.4" y2="298.13" stroke="#222" stroke-width="0.7"/>
<line x1="56.8" y1="289.85" x2="60" y2="289.85" stroke="#222" stroke-width="0.7"/>
<line x1="56.8" y1="298.13" x2="60" y2="298.13" stroke="#222" stroke-width="0.7"/>
<circle cx="58.4" cy="293.99" r="1.9" fill="#151515"/>
<line x1="93.2" y1="308.06" x2="93.2" y2="311.37" stroke="#222" stroke-width="0.7"/>
<line x1="91.6" y1="308.06" x2="94.8" y2="308.06" stroke="#222" stroke-width="0.7"/>
<line x1="91.6" y1="311.37" x2="94.8" y2="311.37" stroke="#222" stroke-width="0.7"/>
<circle cx="93.2" cy="309.72" r="1.9" fill="#151515"/>
<line x1="128" y1="320.07" x2="128" y2="323.38" stroke="#222" stroke-width="0.7"/>
<line x1="126.4" y1="320.07" x2="129.6" y2="320.07" stroke="#222" stroke-width="0.7"/>
<line x1="126.4" y1="323.38" x2="129.6" y2="323.38" stroke="#222" stroke-width="0.7"/>
<circle cx="128" cy="321.72" r="1.9" fill="#151515"/>
<line x1="70.7" y1="250.2" x2="79" y2="250.2" stroke="#222" stroke-width="0.9"/>
<circle cx="74.8" cy="250.2" r="1.7" fill="#111"/>
<line x1="70.7" y1="259.4" x2="79" y2="259.4" stroke="#e0282a" stroke-width="0.9"/>
<rect x="73.2" y="257.8" width="3.2" height="3.2" fill="#e0282a"/>
<text class="s" x="82.7" y="252.74" font-size="7.05" text-anchor="start" font-style="italic" fill="#1a1a1a">miR-802<tspan font-size="3.67" dy="-2.54">fl/fl</tspan></text>
<text class="s" x="82.7" y="261.94" font-size="7.05" text-anchor="start" font-style="italic" fill="#1a1a1a">Vil-Cre miR-802<tspan font-size="3.67" dy="-2.54">fl/fl</tspan></text>
<text x="42.2" y="267.59" font-size="5.8" text-anchor="middle" fill="#1a1a1a">n.s.</text>
<text x="59.9" y="282.79" font-size="5.8" text-anchor="middle" fill="#1a1a1a">n.s.</text>
<text x="94.3" y="301.39" font-size="5.8" text-anchor="middle" fill="#1a1a1a">n.s.</text>
<text x="129" y="310.59" font-size="5.8" text-anchor="middle" fill="#1a1a1a">n.s.</text>
<text x="29.7" y="340.49" font-size="5.8" text-anchor="middle" fill="#1a1a1a">n.s.</text>
<text x="192.2" y="223.5" font-size="16.3" fill="#111">f</text>
<line x1="214.1" y1="261.3" x2="214.1" y2="356.4" stroke="#4a4a4a" stroke-width="1.0"/>
<line x1="209.9" y1="356.4" x2="214.1" y2="356.4" stroke="#4a4a4a" stroke-width="0.9"/>
<text class="s" x="207.85" y="359.85" font-size="8.2" text-anchor="end" fill="#1a1a1a">0</text>
<line x1="209.9" y1="324.7" x2="214.1" y2="324.7" stroke="#4a4a4a" stroke-width="0.9"/>
<text class="s" x="207.85" y="328.15" font-size="8.2" text-anchor="end" fill="#1a1a1a">5</text>
<line x1="209.9" y1="293" x2="214.1" y2="293" stroke="#4a4a4a" stroke-width="0.9"/>
<text class="s" x="207.85" y="296.45" font-size="8.2" text-anchor="end" fill="#1a1a1a">10</text>
<line x1="209.9" y1="261.3" x2="214.1" y2="261.3" stroke="#4a4a4a" stroke-width="0.9"/>
<text class="s" x="207.85" y="264.75" font-size="8.2" text-anchor="end" fill="#1a1a1a">15</text>
<line x1="214.1" y1="356.4" x2="315.4" y2="356.4" stroke="#4a4a4a" stroke-width="0.9"/>
<line x1="237.7" y1="356.4" x2="237.7" y2="359" stroke="#4a4a4a" stroke-width="0.9"/>
<line x1="291.8" y1="356.4" x2="291.8" y2="359" stroke="#4a4a4a" stroke-width="0.9"/>
<text class="s" x="237.7" y="368.95" font-size="8.2" text-anchor="middle" fill="#1a1a1a">0</text>
<text class="s" x="291.8" y="368.95" font-size="8.2" text-anchor="middle" fill="#1a1a1a">5</text>
<text class="s" x="265.7" y="377.87" font-size="7.7" text-anchor="middle" fill="#1a1a1a">Time after gavage (min)</text>
<text class="s" transform="translate(194.91,312.6) rotate(-90)" font-size="7.8" text-anchor="middle" fill="#1a1a1a">Active GLP-1 (pM)</text>
<rect x="221.1" y="341.18" width="13.6" height="15.22" fill="#5f5f5f" stroke="#2a2a2a" stroke-width="0.8"/>
<line x1="227.9" y1="339.6" x2="227.9" y2="341.18" stroke="#333" stroke-width="0.8"/>
<line x1="224.9" y1="339.6" x2="230.9" y2="339.6" stroke="#333" stroke-width="0.8"/>
<line x1="224.9" y1="341.18" x2="230.9" y2="341.18" stroke="#333" stroke-width="0.8"/>
<rect x="241.4" y="338.65" width="13.7" height="17.75" fill="#e0282a" stroke="#2a2a2a" stroke-width="0.8"/>
<line x1="248.25" y1="335.48" x2="248.25" y2="338.65" stroke="#333" stroke-width="0.8"/>
<line x1="245.25" y1="335.48" x2="251.25" y2="335.48" stroke="#333" stroke-width="0.8"/>
<line x1="245.25" y1="338.65" x2="251.25" y2="338.65" stroke="#333" stroke-width="0.8"/>
<rect x="274.9" y="303.78" width="13.2" height="52.62" fill="#5f5f5f" stroke="#2a2a2a" stroke-width="0.8"/>
<line x1="281.5" y1="291.41" x2="281.5" y2="303.78" stroke="#333" stroke-width="0.8"/>
<line x1="278.5" y1="291.41" x2="284.5" y2="291.41" stroke="#333" stroke-width="0.8"/>
<line x1="278.5" y1="303.78" x2="284.5" y2="303.78" stroke="#333" stroke-width="0.8"/>
<rect x="295" y="310.12" width="12.9" height="46.28" fill="#e0282a" stroke="#2a2a2a" stroke-width="0.8"/>
<line x1="301.45" y1="297.44" x2="301.45" y2="310.12" stroke="#333" stroke-width="0.8"/>
<line x1="298.45" y1="297.44" x2="304.45" y2="297.44" stroke="#333" stroke-width="0.8"/>
<line x1="298.45" y1="310.12" x2="304.45" y2="310.12" stroke="#333" stroke-width="0.8"/>
<circle cx="223.5" cy="340.55" r="1.15" fill="#111"/>
<circle cx="225.5" cy="341.18" r="1.15" fill="#111"/>
<circle cx="227.5" cy="339.92" r="1.15" fill="#111"/>
<circle cx="229.5" cy="340.55" r="1.15" fill="#111"/>
<circle cx="231.5" cy="341.18" r="1.15" fill="#111"/>
<circle cx="244" cy="339.92" r="1.15" fill="#111"/>
<circle cx="246.5" cy="338.01" r="1.15" fill="#111"/>
<circle cx="249" cy="340.55" r="1.15" fill="#111"/>
<circle cx="251.5" cy="337.38" r="1.15" fill="#111"/>
<circle cx="248" cy="331.67" r="1.15" fill="#111"/>
<circle cx="246" cy="342.45" r="1.15" fill="#111"/>
<circle cx="281.5" cy="284" r="1.25" fill="#111"/>
<circle cx="281.5" cy="296.9" r="1.25" fill="#111"/>
<circle cx="281.5" cy="300.6" r="1.25" fill="#111"/>
<circle cx="281.5" cy="308" r="1.25" fill="#111"/>
<circle cx="281.5" cy="314.2" r="1.25" fill="#111"/>
<circle cx="281.5" cy="322.2" r="1.25" fill="#111"/>
<circle cx="301.5" cy="288.2" r="1.25" fill="#111"/>
<circle cx="301.5" cy="303.1" r="1.25" fill="#111"/>
<circle cx="301.5" cy="309.3" r="1.25" fill="#111"/>
<circle cx="301.5" cy="314.2" r="1.25" fill="#111"/>
<circle cx="301.5" cy="319.2" r="1.25" fill="#111"/>
<circle cx="301.5" cy="326.2" r="1.25" fill="#111"/>
<polyline points="228.5,324.7 228.5,320.4 250.1,320.4 250.1,324.7" fill="none" stroke="#333" stroke-width="0.7"/>
<text x="239.7" y="318.79" font-size="5.8" text-anchor="middle" fill="#1a1a1a">n.s.</text>
<polyline points="281.9,277.5 281.9,273.3 303.7,273.3 303.7,277.5" fill="none" stroke="#333" stroke-width="0.7"/>
<text x="293" y="271.09" font-size="5.8" text-anchor="middle" fill="#1a1a1a">n.s.</text>
<rect x="228" y="246.5" width="10.3" height="5.3" fill="#5f5f5f" stroke="#333" stroke-width="0.7"/>
<rect x="228" y="256.8" width="10.3" height="5" fill="#e0282a" stroke="#333" stroke-width="0.7"/>
<text class="s" x="243.5" y="251.74" font-size="7.05" text-anchor="start" font-style="italic" fill="#1a1a1a">mir-802<tspan font-size="3.67" dy="-2.54">fl/fl</tspan></text>
<text class="s" x="243.5" y="261.84" font-size="7.05" text-anchor="start" font-style="italic" fill="#1a1a1a">Vil-Cre miR-802<tspan font-size="3.67" dy="-2.54">fl/fl</tspan></text>
<text x="365.9" y="223.5" font-size="16.3" fill="#111">g</text>
<line x1="393.5" y1="255.9" x2="393.5" y2="355.2" stroke="#4a4a4a" stroke-width="1.0"/>
<line x1="391.3" y1="355.2" x2="393.5" y2="355.2" stroke="#4a4a4a" stroke-width="0.9"/>
<text class="s" x="388.95" y="358.65" font-size="8.2" text-anchor="end" fill="#1a1a1a">0.0</text>
<line x1="391.3" y1="322.1" x2="393.5" y2="322.1" stroke="#4a4a4a" stroke-width="0.9"/>
<text class="s" x="388.95" y="325.55" font-size="8.2" text-anchor="end" fill="#1a1a1a">0.5</text>
<line x1="391.3" y1="289" x2="393.5" y2="289" stroke="#4a4a4a" stroke-width="0.9"/>
<text class="s" x="388.95" y="292.45" font-size="8.2" text-anchor="end" fill="#1a1a1a">1.0</text>
<line x1="391.3" y1="255.9" x2="393.5" y2="255.9" stroke="#4a4a4a" stroke-width="0.9"/>
<text class="s" x="388.95" y="259.35" font-size="8.2" text-anchor="end" fill="#1a1a1a">1.5</text>
<line x1="393.5" y1="355.2" x2="493.5" y2="355.2" stroke="#4a4a4a" stroke-width="0.9"/>
<line x1="393.5" y1="355.2" x2="393.5" y2="357.4" stroke="#4a4a4a" stroke-width="0.9"/>
<line x1="443.38" y1="355.2" x2="443.38" y2="357.4" stroke="#4a4a4a" stroke-width="0.9"/>
<line x1="493.25" y1="355.2" x2="493.25" y2="357.4" stroke="#4a4a4a" stroke-width="0.9"/>
<text class="s" x="393.5" y="366.71" font-size="7.8" text-anchor="middle" fill="#1a1a1a">0</text>
<text class="s" x="443.38" y="366.71" font-size="7.8" text-anchor="middle" fill="#1a1a1a">15</text>
<text class="s" x="493.25" y="366.71" font-size="7.8" text-anchor="middle" fill="#1a1a1a">30</text>
<text class="s" x="444.4" y="377.77" font-size="7.7" text-anchor="middle" fill="#1a1a1a">Time (min)</text>
<text class="s" transform="translate(372.14,304) rotate(-90)" font-size="7.6" text-anchor="middle" fill="#1a1a1a">Plasma Insulin (ng/ml)</text>
<polyline points="393.5,334.68 443.38,294.96 493.25,323.42" fill="none" stroke="#e0282a" stroke-width="0.9"/>
<polyline points="393.5,328.72 443.38,296.94 493.25,330.71" fill="none" stroke="#222" stroke-width="0.9"/>
<line x1="393.5" y1="333.35" x2="393.5" y2="334.68" stroke="#e0282a" stroke-width="0.7"/>
<line x1="391.9" y1="333.35" x2="395.1" y2="333.35" stroke="#e0282a" stroke-width="0.7"/>
<line x1="391.9" y1="334.68" x2="395.1" y2="334.68" stroke="#e0282a" stroke-width="0.7"/>
<rect x="391.8" y="332.98" width="3.4" height="3.4" fill="#e0282a"/>
<line x1="443.38" y1="275.1" x2="443.38" y2="294.96" stroke="#e0282a" stroke-width="0.7"/>
<line x1="441.77" y1="275.1" x2="444.98" y2="275.1" stroke="#e0282a" stroke-width="0.7"/>
<line x1="441.77" y1="294.96" x2="444.98" y2="294.96" stroke="#e0282a" stroke-width="0.7"/>
<rect x="441.68" y="293.26" width="3.4" height="3.4" fill="#e0282a"/>
<line x1="493.25" y1="310.18" x2="493.25" y2="323.42" stroke="#e0282a" stroke-width="0.7"/>
<line x1="491.65" y1="310.18" x2="494.85" y2="310.18" stroke="#e0282a" stroke-width="0.7"/>
<line x1="491.65" y1="323.42" x2="494.85" y2="323.42" stroke="#e0282a" stroke-width="0.7"/>
<rect x="491.55" y="321.72" width="3.4" height="3.4" fill="#e0282a"/>
<line x1="393.5" y1="325.41" x2="393.5" y2="328.72" stroke="#222" stroke-width="0.7"/>
<line x1="391.9" y1="325.41" x2="395.1" y2="325.41" stroke="#222" stroke-width="0.7"/>
<line x1="391.9" y1="328.72" x2="395.1" y2="328.72" stroke="#222" stroke-width="0.7"/>
<circle cx="393.5" cy="328.72" r="1.9" fill="#151515"/>
<line x1="443.38" y1="270.46" x2="443.38" y2="296.94" stroke="#222" stroke-width="0.7"/>
<line x1="441.77" y1="270.46" x2="444.98" y2="270.46" stroke="#222" stroke-width="0.7"/>
<line x1="441.77" y1="296.94" x2="444.98" y2="296.94" stroke="#222" stroke-width="0.7"/>
<circle cx="443.38" cy="296.94" r="1.9" fill="#151515"/>
<line x1="493.25" y1="322.1" x2="493.25" y2="330.71" stroke="#222" stroke-width="0.7"/>
<line x1="491.65" y1="322.1" x2="494.85" y2="322.1" stroke="#222" stroke-width="0.7"/>
<line x1="491.65" y1="330.71" x2="494.85" y2="330.71" stroke="#222" stroke-width="0.7"/>
<circle cx="493.25" cy="330.71" r="1.9" fill="#151515"/>
<line x1="403.4" y1="239.3" x2="410.8" y2="239.3" stroke="#222" stroke-width="0.9"/>
<circle cx="407.1" cy="239.3" r="1.7" fill="#111"/>
<line x1="403.4" y1="248.5" x2="410.8" y2="248.5" stroke="#e0282a" stroke-width="0.9"/>
<rect x="405.5" y="246.9" width="3.2" height="3.2" fill="#e0282a"/>
<text class="s" x="414.6" y="241.84" font-size="7.05" text-anchor="start" font-style="italic" fill="#1a1a1a">mir-802<tspan font-size="3.67" dy="-2.54">fl/fl</tspan></text>
<text class="s" x="414.6" y="251.04" font-size="7.05" text-anchor="start" font-style="italic" fill="#1a1a1a">Vil-Cre mir-802<tspan font-size="3.67" dy="-2.54">fl/fl</tspan></text>
<text x="443.9" y="266.19" font-size="5.8" text-anchor="middle" fill="#1a1a1a">n.s.</text>
<text x="494" y="305.69" font-size="5.8" text-anchor="middle" fill="#1a1a1a">n.s.</text>
<text x="405.5" y="341.53" font-size="4.8" text-anchor="middle" fill="#1a1a1a">p= 0.018</text>
<text x="550.6" y="223.5" font-size="16.3" fill="#111">h</text>
<line x1="577.8" y1="262.15" x2="577.8" y2="356.4" stroke="#4a4a4a" stroke-width="1.0"/>
<line x1="575.3" y1="356.4" x2="577.8" y2="356.4" stroke="#4a4a4a" stroke-width="0.9"/>
<text class="s" x="574.55" y="359.85" font-size="8.2" text-anchor="end" fill="#1a1a1a">0.0</text>
<line x1="575.3" y1="337.55" x2="577.8" y2="337.55" stroke="#4a4a4a" stroke-width="0.9"/>
<text class="s" x="574.55" y="341" font-size="8.2" text-anchor="end" fill="#1a1a1a">0.5</text>
<line x1="575.3" y1="318.7" x2="577.8" y2="318.7" stroke="#4a4a4a" stroke-width="0.9"/>
<text class="s" x="574.55" y="322.15" font-size="8.2" text-anchor="end" fill="#1a1a1a">1.0</text>
<line x1="575.3" y1="299.85" x2="577.8" y2="299.85" stroke="#4a4a4a" stroke-width="0.9"/>
<text class="s" x="574.55" y="303.3" font-size="8.2" text-anchor="end" fill="#1a1a1a">1.5</text>
<line x1="575.3" y1="281" x2="577.8" y2="281" stroke="#4a4a4a" stroke-width="0.9"/>
<text class="s" x="574.55" y="284.45" font-size="8.2" text-anchor="end" fill="#1a1a1a">2.0</text>
<line x1="575.3" y1="262.15" x2="577.8" y2="262.15" stroke="#4a4a4a" stroke-width="0.9"/>
<text class="s" x="574.55" y="265.6" font-size="8.2" text-anchor="end" fill="#1a1a1a">2.5</text>
<line x1="577.8" y1="356.4" x2="685" y2="356.4" stroke="#4a4a4a" stroke-width="0.9"/>
<line x1="602.9" y1="356.4" x2="602.9" y2="359" stroke="#4a4a4a" stroke-width="0.9"/>
<line x1="659.8" y1="356.4" x2="659.8" y2="359" stroke="#4a4a4a" stroke-width="0.9"/>
<rect x="585.2" y="309.27" width="14.2" height="47.12" fill="#5f5f5f" stroke="#2a2a2a" stroke-width="0.8"/>
<line x1="592.3" y1="284.77" x2="592.3" y2="309.27" stroke="#333" stroke-width="0.8"/>
<line x1="589.3" y1="284.77" x2="595.3" y2="284.77" stroke="#333" stroke-width="0.8"/>
<line x1="589.3" y1="309.27" x2="595.3" y2="309.27" stroke="#333" stroke-width="0.8"/>
<rect x="606.8" y="320.96" width="13.7" height="35.44" fill="#e0282a" stroke="#2a2a2a" stroke-width="0.8"/>
<line x1="613.65" y1="302.87" x2="613.65" y2="320.96" stroke="#333" stroke-width="0.8"/>
<line x1="610.65" y1="302.87" x2="616.65" y2="302.87" stroke="#333" stroke-width="0.8"/>
<line x1="610.65" y1="320.96" x2="616.65" y2="320.96" stroke="#333" stroke-width="0.8"/>
<rect x="642.1" y="329.26" width="13.9" height="27.14" fill="#5f5f5f" stroke="#2a2a2a" stroke-width="0.8"/>
<line x1="649.05" y1="319.45" x2="649.05" y2="329.26" stroke="#333" stroke-width="0.8"/>
<line x1="646.05" y1="319.45" x2="652.05" y2="319.45" stroke="#333" stroke-width="0.8"/>
<line x1="646.05" y1="329.26" x2="652.05" y2="329.26" stroke="#333" stroke-width="0.8"/>
<rect x="663.4" y="330.76" width="14.2" height="25.64" fill="#e0282a" stroke="#2a2a2a" stroke-width="0.8"/>
<line x1="670.5" y1="323.6" x2="670.5" y2="330.76" stroke="#333" stroke-width="0.8"/>
<line x1="667.5" y1="323.6" x2="673.5" y2="323.6" stroke="#333" stroke-width="0.8"/>
<line x1="667.5" y1="330.76" x2="673.5" y2="330.76" stroke="#333" stroke-width="0.8"/>
<circle cx="592" cy="279.6" r="1.25" fill="#111"/>
<circle cx="590" cy="284.2" r="1.25" fill="#111"/>
<circle cx="594.1" cy="284.2" r="1.25" fill="#111"/>
<circle cx="592.3" cy="291.9" r="1.25" fill="#111"/>
<circle cx="592.3" cy="309.8" r="1.25" fill="#111"/>
<circle cx="592.3" cy="312.5" r="1.25" fill="#111"/>
<circle cx="592.3" cy="316.4" r="1.25" fill="#111"/>
<circle cx="592" cy="334.8" r="1.25" fill="#111"/>
<circle cx="590" cy="339" r="1.25" fill="#111"/>
<circle cx="594.1" cy="338.5" r="1.25" fill="#111"/>
<circle cx="613.4" cy="278.9" r="1.25" fill="#111"/>
<circle cx="613.4" cy="308.8" r="1.25" fill="#111"/>
<circle cx="613.4" cy="310.3" r="1.25" fill="#111"/>
<circle cx="613.4" cy="319.8" r="1.25" fill="#111"/>
<circle cx="611.4" cy="325.6" r="1.25" fill="#111"/>
<circle cx="615.6" cy="325.6" r="1.25" fill="#111"/>
<circle cx="615.6" cy="327.5" r="1.25" fill="#111"/>
<circle cx="613.4" cy="332.9" r="1.25" fill="#111"/>
<circle cx="611.4" cy="339" r="1.25" fill="#111"/>
<circle cx="615.6" cy="338.5" r="1.25" fill="#111"/>
<circle cx="647.2" cy="317" r="1.2" fill="#111"/>
<circle cx="650.9" cy="315.5" r="1.2" fill="#111"/>
<circle cx="649" cy="321" r="1.2" fill="#111"/>
<circle cx="649" cy="325.2" r="1.2" fill="#111"/>
<circle cx="647.2" cy="330.2" r="1.2" fill="#111"/>
<circle cx="650.9" cy="330.2" r="1.2" fill="#111"/>
<circle cx="647.2" cy="337.5" r="1.2" fill="#111"/>
<circle cx="650.9" cy="338.5" r="1.2" fill="#111"/>
<circle cx="649" cy="344.7" r="1.2" fill="#111"/>
<circle cx="670.5" cy="316.7" r="1.2" fill="#111"/>
<circle cx="670.5" cy="325.2" r="1.2" fill="#111"/>
<circle cx="674.8" cy="326" r="1.2" fill="#111"/>
<circle cx="666.7" cy="334.8" r="1.2" fill="#111"/>
<circle cx="670.5" cy="335.1" r="1.2" fill="#111"/>
<circle cx="674.8" cy="335.1" r="1.2" fill="#111"/>
<circle cx="670.5" cy="339" r="1.2" fill="#111"/>
<polyline points="592.4,274 592.4,270.3 613.8,270.3 613.8,274" fill="none" stroke="#333" stroke-width="0.7"/>
<text x="601.9" y="267.89" font-size="5.8" text-anchor="middle" fill="#1a1a1a">n.s.</text>
<polyline points="649,306.3 649,302.6 670.6,302.6 670.6,306.3" fill="none" stroke="#333" stroke-width="0.7"/>
<text x="659" y="300.19" font-size="5.8" text-anchor="middle" fill="#1a1a1a">n.s.</text>
<text class="s" transform="translate(600.6,369.5) rotate(-20)" font-size="7.7" text-anchor="middle" font-style="italic" fill="#1a1a1a">Gip</text>
<text class="s" transform="translate(654.7,372.2) rotate(-20)" font-size="7.7" text-anchor="middle" font-style="italic" fill="#1a1a1a">Glp1</text>
<text class="s" transform="translate(557.01,310.9) rotate(-90)" font-size="7.8" text-anchor="middle" fill="#1a1a1a">Rel. mRNA levels</text>
<rect x="590.7" y="242.3" width="10.7" height="4.9" fill="#5f5f5f" stroke="#333" stroke-width="0.7"/>
<rect x="590.7" y="252.9" width="10.7" height="5" fill="#e0282a" stroke="#333" stroke-width="0.7"/>
<text class="s" x="607.3" y="247.34" font-size="7.05" text-anchor="start" font-style="italic" fill="#1a1a1a">mir-802<tspan font-size="3.67" dy="-2.54">fl/fl</tspan></text>
<text class="s" x="607.3" y="257.94" font-size="7.05" text-anchor="start" font-style="italic" fill="#1a1a1a">Vil-Cre miR-802<tspan font-size="3.67" dy="-2.54">fl/fl</tspan></text>
<text x="-0.6" y="426.1" font-size="16.3" fill="#111">i</text>
<line x1="24.1" y1="464.38" x2="24.1" y2="558.7" stroke="#4a4a4a" stroke-width="1.0"/>
<line x1="21.5" y1="558.7" x2="24.1" y2="558.7" stroke="#4a4a4a" stroke-width="0.9"/>
<text class="s" x="21.25" y="562.15" font-size="8.2" text-anchor="end" fill="#1a1a1a">0</text>
<line x1="21.5" y1="527.26" x2="24.1" y2="527.26" stroke="#4a4a4a" stroke-width="0.9"/>
<text class="s" x="21.25" y="530.71" font-size="8.2" text-anchor="end" fill="#1a1a1a">20</text>
<line x1="21.5" y1="495.82" x2="24.1" y2="495.82" stroke="#4a4a4a" stroke-width="0.9"/>
<text class="s" x="21.25" y="499.27" font-size="8.2" text-anchor="end" fill="#1a1a1a">40</text>
<line x1="21.5" y1="464.38" x2="24.1" y2="464.38" stroke="#4a4a4a" stroke-width="0.9"/>
<text class="s" x="21.25" y="467.83" font-size="8.2" text-anchor="end" fill="#1a1a1a">60</text>
<rect x="30" y="544.08" width="13" height="14.62" fill="#5f5f5f" stroke="#2a2a2a" stroke-width="0.8"/>
<line x1="36.5" y1="542.35" x2="36.5" y2="544.08" stroke="#333" stroke-width="0.8"/>
<line x1="33.5" y1="542.35" x2="39.5" y2="542.35" stroke="#333" stroke-width="0.8"/>
<line x1="33.5" y1="544.08" x2="39.5" y2="544.08" stroke="#333" stroke-width="0.8"/>
<rect x="48.5" y="544.24" width="13.1" height="14.46" fill="#e0282a" stroke="#2a2a2a" stroke-width="0.8"/>
<line x1="55.05" y1="542.35" x2="55.05" y2="544.24" stroke="#333" stroke-width="0.8"/>
<line x1="52.05" y1="542.35" x2="58.05" y2="542.35" stroke="#333" stroke-width="0.8"/>
<line x1="52.05" y1="544.24" x2="58.05" y2="544.24" stroke="#333" stroke-width="0.8"/>
<rect x="79" y="534.02" width="13.1" height="24.68" fill="#5f5f5f" stroke="#2a2a2a" stroke-width="0.8"/>
<line x1="85.55" y1="525.69" x2="85.55" y2="534.02" stroke="#333" stroke-width="0.8"/>
<line x1="82.55" y1="525.69" x2="88.55" y2="525.69" stroke="#333" stroke-width="0.8"/>
<line x1="82.55" y1="534.02" x2="88.55" y2="534.02" stroke="#333" stroke-width="0.8"/>
<rect x="97.6" y="537.79" width="12.8" height="20.91" fill="#e0282a" stroke="#2a2a2a" stroke-width="0.8"/>
<line x1="104" y1="529.78" x2="104" y2="537.79" stroke="#333" stroke-width="0.8"/>
<line x1="101" y1="529.78" x2="107" y2="529.78" stroke="#333" stroke-width="0.8"/>
<line x1="101" y1="537.79" x2="107" y2="537.79" stroke="#333" stroke-width="0.8"/>
<rect x="128.2" y="503.68" width="12.7" height="55.02" fill="#5f5f5f" stroke="#2a2a2a" stroke-width="0.8"/>
<line x1="134.55" y1="465.32" x2="134.55" y2="503.68" stroke="#333" stroke-width="0.8"/>
<line x1="131.55" y1="465.32" x2="137.55" y2="465.32" stroke="#333" stroke-width="0.8"/>
<line x1="131.55" y1="503.68" x2="137.55" y2="503.68" stroke="#333" stroke-width="0.8"/>
<rect x="147" y="516.57" width="12.5" height="42.13" fill="#e0282a" stroke="#2a2a2a" stroke-width="0.8"/>
<line x1="153.25" y1="495.51" x2="153.25" y2="516.57" stroke="#333" stroke-width="0.8"/>
<line x1="150.25" y1="495.51" x2="156.25" y2="495.51" stroke="#333" stroke-width="0.8"/>
<line x1="150.25" y1="516.57" x2="156.25" y2="516.57" stroke="#333" stroke-width="0.8"/>
<line x1="24.1" y1="558.7" x2="165.9" y2="558.7" stroke="#4a4a4a" stroke-width="0.9"/>
<line x1="45.8" y1="558.7" x2="45.8" y2="561.3" stroke="#4a4a4a" stroke-width="0.9"/>
<line x1="94.8" y1="558.7" x2="94.8" y2="561.3" stroke="#4a4a4a" stroke-width="0.9"/>
<line x1="143.9" y1="558.7" x2="143.9" y2="561.3" stroke="#4a4a4a" stroke-width="0.9"/>
<circle cx="32" cy="543.5" r="1.15" fill="#111"/>
<circle cx="34.5" cy="542.5" r="1.15" fill="#111"/>
<circle cx="37" cy="543.5" r="1.15" fill="#111"/>
<circle cx="39.5" cy="542.5" r="1.15" fill="#111"/>
<circle cx="41" cy="545.5" r="1.15" fill="#111"/>
<circle cx="33.5" cy="546" r="1.15" fill="#111"/>
<circle cx="36.5" cy="547.5" r="1.15" fill="#111"/>
<circle cx="39" cy="546" r="1.15" fill="#111"/>
<circle cx="51" cy="544" r="1.15" fill="#111"/>
<circle cx="53.5" cy="542.5" r="1.15" fill="#111"/>
<circle cx="56" cy="543.5" r="1.15" fill="#111"/>
<circle cx="58.5" cy="542.5" r="1.15" fill="#111"/>
<circle cx="59.5" cy="545.5" r="1.15" fill="#111"/>
<circle cx="52.5" cy="546.5" r="1.15" fill="#111"/>
<circle cx="55.5" cy="547" r="1.15" fill="#111"/>
<circle cx="58" cy="546" r="1.15" fill="#111"/>
<circle cx="85.2" cy="521.2" r="1.25" fill="#111"/>
<circle cx="85.2" cy="524" r="1.25" fill="#111"/>
<circle cx="83.2" cy="534.5" r="1.25" fill="#111"/>
<circle cx="87.4" cy="534.5" r="1.25" fill="#111"/>
<circle cx="83.2" cy="542" r="1.25" fill="#111"/>
<circle cx="87.4" cy="542" r="1.25" fill="#111"/>
<circle cx="103.5" cy="519.8" r="1.25" fill="#111"/>
<circle cx="100.5" cy="537.5" r="1.25" fill="#111"/>
<circle cx="103.2" cy="537" r="1.25" fill="#111"/>
<circle cx="106.8" cy="538" r="1.25" fill="#111"/>
<circle cx="101.2" cy="541.5" r="1.25" fill="#111"/>
<circle cx="106.8" cy="541.5" r="1.25" fill="#111"/>
<circle cx="103.2" cy="544.2" r="1.25" fill="#111"/>
<circle cx="134.5" cy="478.2" r="1.25" fill="#111"/>
<circle cx="132.6" cy="517.9" r="1.25" fill="#111"/>
<circle cx="136.5" cy="519.3" r="1.25" fill="#111"/>
<circle cx="132.6" cy="522" r="1.25" fill="#111"/>
<circle cx="136" cy="522.6" r="1.25" fill="#111"/>
<circle cx="132.6" cy="527.6" r="1.25" fill="#111"/>
<circle cx="136.5" cy="527.6" r="1.25" fill="#111"/>
<circle cx="152.6" cy="489.3" r="1.25" fill="#111"/>
<circle cx="153.1" cy="500.4" r="1.25" fill="#111"/>
<circle cx="152.6" cy="508.2" r="1.25" fill="#111"/>
<circle cx="153.1" cy="530.4" r="1.25" fill="#111"/>
<circle cx="151.2" cy="539" r="1.25" fill="#111"/>
<circle cx="154.8" cy="538" r="1.25" fill="#111"/>
<polyline points="34.7,531.8 34.7,528.2 56.9,528.2 56.9,531.8" fill="none" stroke="#333" stroke-width="0.7"/>
<text x="44.9" y="525.49" font-size="5.8" text-anchor="middle" fill="#1a1a1a">n.s.</text>
<polyline points="84.6,511 84.6,506.8 106,506.8 106,511" fill="none" stroke="#333" stroke-width="0.7"/>
<text x="95.1" y="505.29" font-size="5.8" text-anchor="middle" fill="#1a1a1a">n.s.</text>
<polyline points="135.4,457.7 135.4,453.3 157.6,453.3 157.6,457.7" fill="none" stroke="#333" stroke-width="0.7"/>
<text x="145.6" y="451.99" font-size="5.8" text-anchor="middle" fill="#1a1a1a">n.s.</text>
<text class="s" transform="translate(45.8,565.6) rotate(-45)" font-size="8" text-anchor="end" fill="#1a1a1a">Jejunum</text>
<text class="s" transform="translate(94.5,565.6) rotate(-45)" font-size="8" text-anchor="end" fill="#1a1a1a">Ileum</text>
<text class="s" transform="translate(144.6,565.6) rotate(-45)" font-size="8" text-anchor="end" fill="#1a1a1a">Colon</text>
<text class="s" transform="translate(7.24,513.2) rotate(-90)" font-size="7.6" text-anchor="middle" fill="#1a1a1a">GLP-1 (pM)/g protein</text>
<rect x="38" y="444.4" width="11.1" height="5.5" fill="#5f5f5f" stroke="#333" stroke-width="0.7"/>
<rect x="38" y="454.9" width="11.1" height="5.6" fill="#e0282a" stroke="#333" stroke-width="0.7"/>
<text class="s" x="54.6" y="449.64" font-size="7.05" text-anchor="start" font-style="italic" fill="#1a1a1a">mir-802<tspan font-size="3.67" dy="-2.54">fl/fl</tspan></text>
<text class="s" x="54.6" y="460.24" font-size="7.05" text-anchor="start" font-style="italic" fill="#1a1a1a">Vil-Cre mir-802<tspan font-size="3.67" dy="-2.54">fl/fl</tspan></text>
<text x="207.9" y="426.2" font-size="16.3" fill="#111">j</text>
<line x1="242.5" y1="463.75" x2="242.5" y2="558.25" stroke="#4a4a4a" stroke-width="1.0"/>
<line x1="240.3" y1="558.25" x2="242.5" y2="558.25" stroke="#4a4a4a" stroke-width="0.9"/>
<text class="s" x="239.85" y="561.33" font-size="7.16" text-anchor="end" fill="#1a1a1a">0</text>
<line x1="240.3" y1="526.75" x2="242.5" y2="526.75" stroke="#4a4a4a" stroke-width="0.9"/>
<text class="s" x="239.85" y="529.83" font-size="7.16" text-anchor="end" fill="#1a1a1a">10</text>
<line x1="240.3" y1="495.25" x2="242.5" y2="495.25" stroke="#4a4a4a" stroke-width="0.9"/>
<text class="s" x="239.85" y="498.33" font-size="7.16" text-anchor="end" fill="#1a1a1a">20</text>
<line x1="240.3" y1="463.75" x2="242.5" y2="463.75" stroke="#4a4a4a" stroke-width="0.9"/>
<text class="s" x="239.85" y="466.83" font-size="7.16" text-anchor="end" fill="#1a1a1a">30</text>
<line x1="242.5" y1="558.25" x2="337.5" y2="558.25" stroke="#4a4a4a" stroke-width="0.9"/>
<line x1="270.62" y1="558.25" x2="270.62" y2="560.65" stroke="#4a4a4a" stroke-width="0.9"/>
<line x1="310.62" y1="558.25" x2="310.62" y2="560.65" stroke="#4a4a4a" stroke-width="0.9"/>
<rect x="257.5" y="510.69" width="26.25" height="47.56" fill="#5f5f5f" stroke="#2a2a2a" stroke-width="0.8"/>
<rect x="297.5" y="540.61" width="26.25" height="17.64" fill="#e0282a" stroke="#2a2a2a" stroke-width="0.8"/>
<line x1="270.62" y1="495.25" x2="270.62" y2="510.69" stroke="#333" stroke-width="0.8"/>
<line x1="264.02" y1="495.25" x2="277.23" y2="495.25" stroke="#333" stroke-width="0.8"/>
<line x1="310.62" y1="533.05" x2="310.62" y2="540.61" stroke="#999" stroke-width="0.8"/>
<line x1="304.32" y1="533.05" x2="316.93" y2="533.05" stroke="#999" stroke-width="0.8"/>
<circle cx="270" cy="482" r="1.3" fill="#111"/>
<circle cx="268.25" cy="502.5" r="1.3" fill="#111"/>
<circle cx="271.25" cy="504.5" r="1.3" fill="#111"/>
<circle cx="270.5" cy="508.75" r="1.3" fill="#111"/>
<circle cx="270" cy="515" r="1.3" fill="#111"/>
<circle cx="270" cy="526.25" r="1.3" fill="#111"/>
<circle cx="270" cy="530.5" r="1.3" fill="#111"/>
<circle cx="310.5" cy="532.5" r="1.3" fill="#111"/>
<circle cx="313" cy="532.5" r="1.3" fill="#111"/>
<circle cx="310" cy="536.25" r="1.3" fill="#111"/>
<circle cx="310.5" cy="539.5" r="1.3" fill="#111"/>
<circle cx="309.5" cy="547.5" r="1.3" fill="#111"/>
<circle cx="312.5" cy="547.5" r="1.3" fill="#111"/>
<circle cx="311.25" cy="550" r="1.3" fill="#111"/>
<polyline points="270.5,475 270.5,471.25 310.5,471.25 310.5,475" fill="none" stroke="#333" stroke-width="0.7"/>
<text x="290.5" y="468.85" font-size="5" text-anchor="middle" fill="#1a1a1a">p= 0.0002</text>
<text class="s" transform="translate(219.02,510) rotate(-90)" font-size="7.7" text-anchor="middle" fill="#1a1a1a">D(<tspan font-size="4.5" dy="-2.6">14</tspan><tspan dy="2.6">C) Glucose, prox. jejunum</tspan></text>
<text class="s" transform="translate(228.27,508.75) rotate(-90)" font-size="7.7" text-anchor="middle" fill="#1a1a1a">(dpm x 10<tspan font-size="4.5" dy="-2.6">3</tspan><tspan dy="2.6">/ cm)</tspan></text>
<text class="s" transform="translate(271.62,567.4) rotate(-35.5)" font-size="7.9" text-anchor="end" font-style="italic" fill="#1a1a1a">mir-802<tspan font-size="4.11" dy="-2.84">fl/fl</tspan></text>
<text class="s" transform="translate(311.62,567.4) rotate(-35.5)" font-size="7.9" text-anchor="end" font-style="italic" fill="#1a1a1a">Vil-Cre mir-802<tspan font-size="4.11" dy="-2.84">fl/fl</tspan></text>
<text x="380.4" y="426.2" font-size="16.3" fill="#111">k</text>
<line x1="416.25" y1="464.5" x2="416.25" y2="558.25" stroke="#4a4a4a" stroke-width="1.0"/>
<line x1="414.05" y1="558.25" x2="416.25" y2="558.25" stroke="#4a4a4a" stroke-width="0.9"/>
<text class="s" x="413.6" y="561.33" font-size="7.16" text-anchor="end" fill="#1a1a1a">0</text>
<line x1="414.05" y1="527" x2="416.25" y2="527" stroke="#4a4a4a" stroke-width="0.9"/>
<text class="s" x="413.6" y="530.08" font-size="7.16" text-anchor="end" fill="#1a1a1a">5</text>
<line x1="414.05" y1="495.75" x2="416.25" y2="495.75" stroke="#4a4a4a" stroke-width="0.9"/>
<text class="s" x="413.6" y="498.83" font-size="7.16" text-anchor="end" fill="#1a1a1a">10</text>
<line x1="414.05" y1="464.5" x2="416.25" y2="464.5" stroke="#4a4a4a" stroke-width="0.9"/>
<text class="s" x="413.6" y="467.58" font-size="7.16" text-anchor="end" fill="#1a1a1a">15</text>
<line x1="416.25" y1="558.25" x2="513.75" y2="558.25" stroke="#4a4a4a" stroke-width="0.9"/>
<line x1="444.38" y1="558.25" x2="444.38" y2="560.65" stroke="#4a4a4a" stroke-width="0.9"/>
<line x1="486" y1="558.25" x2="486" y2="560.65" stroke="#4a4a4a" stroke-width="0.9"/>
<rect x="431.25" y="515.75" width="26.25" height="42.5" fill="#5f5f5f" stroke="#2a2a2a" stroke-width="0.8"/>
<rect x="472.5" y="532.94" width="27" height="25.31" fill="#e0282a" stroke="#2a2a2a" stroke-width="0.8"/>
<line x1="444.38" y1="493.25" x2="444.38" y2="515.75" stroke="#333" stroke-width="0.8"/>
<line x1="437.77" y1="493.25" x2="450.98" y2="493.25" stroke="#333" stroke-width="0.8"/>
<line x1="486" y1="520.44" x2="486" y2="532.94" stroke="#999" stroke-width="0.8"/>
<line x1="479.4" y1="520.44" x2="492.6" y2="520.44" stroke="#999" stroke-width="0.8"/>
<circle cx="444.25" cy="480.5" r="1.3" fill="#111"/>
<circle cx="444.25" cy="489.25" r="1.3" fill="#111"/>
<circle cx="444.25" cy="498.5" r="1.3" fill="#111"/>
<circle cx="444.25" cy="502.75" r="1.3" fill="#111"/>
<circle cx="444.25" cy="508.25" r="1.3" fill="#111"/>
<circle cx="444.25" cy="523.5" r="1.3" fill="#111"/>
<circle cx="442.5" cy="542" r="1.3" fill="#111"/>
<circle cx="446.2" cy="541.2" r="1.3" fill="#111"/>
<circle cx="484.25" cy="515" r="1.3" fill="#111"/>
<circle cx="487.5" cy="514.25" r="1.3" fill="#111"/>
<circle cx="485.5" cy="530.5" r="1.3" fill="#111"/>
<circle cx="483.5" cy="535.5" r="1.3" fill="#111"/>
<circle cx="488" cy="535.5" r="1.3" fill="#111"/>
<circle cx="485" cy="542.5" r="1.3" fill="#111"/>
<circle cx="485.5" cy="548" r="1.3" fill="#111"/>
<polyline points="444.5,472 444.5,467.5 485,467.5 485,472" fill="none" stroke="#333" stroke-width="0.7"/>
<text x="464.75" y="465.1" font-size="5" text-anchor="middle" fill="#1a1a1a">n.s.</text>
<text class="s" transform="translate(391.52,508.5) rotate(-90)" font-size="7.7" text-anchor="middle" fill="#1a1a1a">D(<tspan font-size="4.5" dy="-2.6">14</tspan><tspan dy="2.6">C) Glucose, distal jejunum</tspan></text>
<text class="s" transform="translate(400.77,508) rotate(-90)" font-size="7.7" text-anchor="middle" fill="#1a1a1a">(dpm x 10<tspan font-size="4.5" dy="-2.6">3</tspan><tspan dy="2.6">/ cm)</tspan></text>
<text class="s" transform="translate(447.57,566.6) rotate(-35.5)" font-size="7.9" text-anchor="end" font-style="italic" fill="#1a1a1a">mir-802<tspan font-size="4.11" dy="-2.84">fl/fl</tspan></text>
<text class="s" transform="translate(489.2,566.6) rotate(-35.5)" font-size="7.9" text-anchor="end" font-style="italic" fill="#1a1a1a">Vil-Cre mir-802<tspan font-size="4.11" dy="-2.84">fl/fl</tspan></text>
<text x="556.9" y="426.2" font-size="16.3" fill="#111">l</text>
<line x1="588" y1="463.75" x2="588" y2="558.25" stroke="#4a4a4a" stroke-width="1.0"/>
<line x1="585.8" y1="558.25" x2="588" y2="558.25" stroke="#4a4a4a" stroke-width="0.9"/>
<text class="s" x="585.35" y="561.33" font-size="7.16" text-anchor="end" fill="#1a1a1a">0</text>
<line x1="585.8" y1="539.35" x2="588" y2="539.35" stroke="#4a4a4a" stroke-width="0.9"/>
<text class="s" x="585.35" y="542.43" font-size="7.16" text-anchor="end" fill="#1a1a1a">2</text>
<line x1="585.8" y1="520.45" x2="588" y2="520.45" stroke="#4a4a4a" stroke-width="0.9"/>
<text class="s" x="585.35" y="523.53" font-size="7.16" text-anchor="end" fill="#1a1a1a">4</text>
<line x1="585.8" y1="501.55" x2="588" y2="501.55" stroke="#4a4a4a" stroke-width="0.9"/>
<text class="s" x="585.35" y="504.63" font-size="7.16" text-anchor="end" fill="#1a1a1a">6</text>
<line x1="585.8" y1="482.65" x2="588" y2="482.65" stroke="#4a4a4a" stroke-width="0.9"/>
<text class="s" x="585.35" y="485.73" font-size="7.16" text-anchor="end" fill="#1a1a1a">8</text>
<line x1="585.8" y1="463.75" x2="588" y2="463.75" stroke="#4a4a4a" stroke-width="0.9"/>
<text class="s" x="585.35" y="466.83" font-size="7.16" text-anchor="end" fill="#1a1a1a">10</text>
<line x1="588" y1="558.25" x2="685" y2="558.25" stroke="#4a4a4a" stroke-width="0.9"/>
<line x1="616" y1="558.25" x2="616" y2="560.65" stroke="#4a4a4a" stroke-width="0.9"/>
<line x1="657.12" y1="558.25" x2="657.12" y2="560.65" stroke="#4a4a4a" stroke-width="0.9"/>
<rect x="602.5" y="493.99" width="27" height="64.26" fill="#5f5f5f" stroke="#2a2a2a" stroke-width="0.8"/>
<rect x="643.75" y="514.78" width="26.75" height="43.47" fill="#e0282a" stroke="#2a2a2a" stroke-width="0.8"/>
<line x1="616" y1="474.62" x2="616" y2="493.99" stroke="#333" stroke-width="0.8"/>
<line x1="609.5" y1="474.62" x2="622.5" y2="474.62" stroke="#333" stroke-width="0.8"/>
<line x1="657.12" y1="499.66" x2="657.12" y2="514.78" stroke="#999" stroke-width="0.8"/>
<line x1="650.83" y1="499.66" x2="663.42" y2="499.66" stroke="#999" stroke-width="0.8"/>
<circle cx="614.25" cy="473.75" r="1.3" fill="#111"/>
<circle cx="618" cy="472.5" r="1.3" fill="#111"/>
<circle cx="616.25" cy="482.5" r="1.3" fill="#111"/>
<circle cx="614.3" cy="491.25" r="1.3" fill="#111"/>
<circle cx="618.2" cy="491.25" r="1.3" fill="#111"/>
<circle cx="616.25" cy="496.25" r="1.3" fill="#111"/>
<circle cx="616.25" cy="521.75" r="1.3" fill="#111"/>
<circle cx="616.25" cy="523.25" r="1.3" fill="#111"/>
<circle cx="657" cy="479.5" r="1.3" fill="#111"/>
<circle cx="657.5" cy="494.25" r="1.3" fill="#111"/>
<circle cx="658.75" cy="500.75" r="1.3" fill="#111"/>
<circle cx="657.5" cy="513.75" r="1.3" fill="#111"/>
<circle cx="655.8" cy="524" r="1.3" fill="#111"/>
<circle cx="659.3" cy="523.5" r="1.3" fill="#111"/>
<circle cx="657.5" cy="528.75" r="1.3" fill="#111"/>
<circle cx="657.5" cy="535" r="1.3" fill="#111"/>
<polyline points="616.25,462.5 616.25,458.75 657,458.75 657,462.5" fill="none" stroke="#333" stroke-width="0.7"/>
<text x="636.62" y="456.35" font-size="5" text-anchor="middle" fill="#1a1a1a">p= 0.0329</text>
<text class="s" transform="translate(566.52,512) rotate(-90)" font-size="7.7" text-anchor="middle" fill="#1a1a1a">D(<tspan font-size="4.5" dy="-2.6">14</tspan><tspan dy="2.6">C) Glucose, Serum</tspan></text>
<text class="s" transform="translate(576.52,511) rotate(-90)" font-size="7.7" text-anchor="middle" fill="#1a1a1a">(dpm x 10<tspan font-size="4.5" dy="-2.6">3</tspan><tspan dy="2.6">/30µl serum)</tspan></text>
<text class="s" transform="translate(616,567.4) rotate(-35.5)" font-size="7.9" text-anchor="end" font-style="italic" fill="#1a1a1a">mir-802<tspan font-size="4.11" dy="-2.84">fl/fl</tspan></text>
<text class="s" transform="translate(657.12,567.4) rotate(-35.5)" font-size="7.9" text-anchor="end" font-style="italic" fill="#1a1a1a">Vil-Cre mir-802<tspan font-size="4.11" dy="-2.84">fl/fl</tspan></text>
<text x="-0.6" y="643.2" font-size="16.3" fill="#111">m</text>
<rect x="28.5" y="682.2" width="16.8" height="16.3" fill="#e8e8f5"/>
<rect x="45" y="682.2" width="16.4" height="16.3" fill="#ec6466"/>
<rect x="61.1" y="682.2" width="16.4" height="16.3" fill="#e95555"/>
<rect x="77.2" y="682.2" width="16.7" height="16.3" fill="#5660b0"/>
<rect x="93.6" y="682.2" width="16.4" height="16.3" fill="#5560ae"/>
<rect x="109.7" y="682.2" width="16.2" height="16.3" fill="#a09ed2"/>
<rect x="28.5" y="698.2" width="16.8" height="16.4" fill="#d0d0ea"/>
<rect x="45" y="698.2" width="16.4" height="16.4" fill="#ea5254"/>
<rect x="61.1" y="698.2" width="16.4" height="16.4" fill="#ee6a6e"/>
<rect x="77.2" y="698.2" width="16.7" height="16.4" fill="#6c70b8"/>
<rect x="93.6" y="698.2" width="16.4" height="16.4" fill="#6c70b8"/>
<rect x="109.7" y="698.2" width="16.2" height="16.4" fill="#a29ccf"/>
<rect x="28.5" y="714.3" width="16.8" height="16.4" fill="#8488c8"/>
<rect x="45" y="714.3" width="16.4" height="16.4" fill="#f08488"/>
<rect x="61.1" y="714.3" width="16.4" height="16.4" fill="#e22c2c"/>
<rect x="77.2" y="714.3" width="16.7" height="16.4" fill="#3f58a8"/>
<rect x="93.6" y="714.3" width="16.4" height="16.4" fill="#5860b5"/>
<rect x="109.7" y="714.3" width="16.2" height="16.4" fill="#aaaad8"/>
<rect x="28.5" y="730.4" width="16.8" height="16.4" fill="#fadcdc"/>
<rect x="45" y="730.4" width="16.4" height="16.4" fill="#d3d3eb"/>
<rect x="61.1" y="730.4" width="16.4" height="16.4" fill="#e33a3a"/>
<rect x="77.2" y="730.4" width="16.7" height="16.4" fill="#4754b2"/>
<rect x="93.6" y="730.4" width="16.4" height="16.4" fill="#9290c9"/>
<rect x="109.7" y="730.4" width="16.2" height="16.4" fill="#ececf7"/>
<rect x="28.5" y="746.5" width="16.8" height="16.5" fill="#c5c5e4"/>
<rect x="45" y="746.5" width="16.4" height="16.5" fill="#f3a5a5"/>
<rect x="61.1" y="746.5" width="16.4" height="16.5" fill="#f5a8aa"/>
<rect x="77.2" y="746.5" width="16.7" height="16.5" fill="#d6d6ec"/>
<rect x="93.6" y="746.5" width="16.4" height="16.5" fill="#c9c7e3"/>
<rect x="109.7" y="746.5" width="16.2" height="16.5" fill="#e2e2f2"/>
<rect x="28.5" y="762.7" width="16.8" height="17" fill="#c8c8e6"/>
<rect x="45" y="762.7" width="16.4" height="17" fill="#f2aaaa"/>
<rect x="61.1" y="762.7" width="16.4" height="17" fill="#f6cccc"/>
<rect x="77.2" y="762.7" width="16.7" height="17" fill="#d6d6ee"/>
<rect x="93.6" y="762.7" width="16.4" height="17" fill="#c0c0e2"/>
<rect x="109.7" y="762.7" width="16.2" height="17" fill="#fcecec"/>
<rect x="28.5" y="682.2" width="97.1" height="97.2" fill="none" stroke="#333" stroke-width="0.8"/>
<text x="24.4" y="688.67" font-size="6.3" text-anchor="end" font-style="italic" fill="#1a1a1a">Slc2a5</text>
<text x="24.4" y="697.17" font-size="6.3" text-anchor="end" font-style="italic" fill="#1a1a1a">(Glut5)</text>
<line x1="26.4" y1="690.2" x2="28.5" y2="690.2" stroke="#333" stroke-width="0.7"/>
<text x="127.4" y="690.42" font-size="5.6" text-anchor="start" fill="#1a1a1a">1.7E-10</text>
<text x="24.4" y="704.67" font-size="6.3" text-anchor="end" font-style="italic" fill="#1a1a1a">Slc2a7</text>
<text x="24.4" y="713.17" font-size="6.3" text-anchor="end" font-style="italic" fill="#1a1a1a">(Glut7)</text>
<line x1="26.4" y1="706.25" x2="28.5" y2="706.25" stroke="#333" stroke-width="0.7"/>
<text x="127.4" y="707.02" font-size="5.6" text-anchor="start" fill="#1a1a1a">7.1E-08</text>
<text x="24.4" y="720.77" font-size="6.3" text-anchor="end" font-style="italic" fill="#1a1a1a">Slc5a4a</text>
<text x="24.4" y="729.27" font-size="6.3" text-anchor="end" font-style="italic" fill="#1a1a1a">(Sglt3a)</text>
<line x1="26.4" y1="722.35" x2="28.5" y2="722.35" stroke="#333" stroke-width="0.7"/>
<text x="127.4" y="723.32" font-size="5.6" text-anchor="start" fill="#1a1a1a">0.00001</text>
<text x="24.4" y="736.87" font-size="6.3" text-anchor="end" font-style="italic" fill="#1a1a1a">Slc5a4b</text>
<text x="24.4" y="745.37" font-size="6.3" text-anchor="end" font-style="italic" fill="#1a1a1a">(Sglt3b)</text>
<line x1="26.4" y1="738.45" x2="28.5" y2="738.45" stroke="#333" stroke-width="0.7"/>
<text x="127.4" y="739.52" font-size="5.6" text-anchor="start" fill="#1a1a1a">0.0005</text>
<text x="24.4" y="752.97" font-size="6.3" text-anchor="end" font-style="italic" fill="#1a1a1a">Slc5a1</text>
<text x="24.4" y="761.47" font-size="6.3" text-anchor="end" font-style="italic" fill="#1a1a1a">(Sglt1)</text>
<line x1="26.4" y1="754.6" x2="28.5" y2="754.6" stroke="#333" stroke-width="0.7"/>
<text x="127.4" y="756.02" font-size="5.6" text-anchor="start" fill="#1a1a1a">0.008</text>
<text x="24.4" y="769.17" font-size="6.3" text-anchor="end" font-style="italic" fill="#1a1a1a">Slc2a2</text>
<text x="24.4" y="777.67" font-size="6.3" text-anchor="end" font-style="italic" fill="#1a1a1a">(Glut2)</text>
<line x1="26.4" y1="771.05" x2="28.5" y2="771.05" stroke="#333" stroke-width="0.7"/>
<text x="127.4" y="772.32" font-size="5.6" text-anchor="start" fill="#1a1a1a">0.06</text>
<line x1="36.75" y1="779.4" x2="36.75" y2="781.4" stroke="#333" stroke-width="0.7"/>
<text class="s" transform="translate(39.27,782) rotate(-90)" font-size="7" text-anchor="end" fill="#1a1a1a">Ctrl1</text>
<line x1="53.05" y1="779.4" x2="53.05" y2="781.4" stroke="#333" stroke-width="0.7"/>
<text class="s" transform="translate(55.57,782) rotate(-90)" font-size="7" text-anchor="end" fill="#1a1a1a">Ctrl2</text>
<line x1="69.15" y1="779.4" x2="69.15" y2="781.4" stroke="#333" stroke-width="0.7"/>
<text class="s" transform="translate(71.67,782) rotate(-90)" font-size="7" text-anchor="end" fill="#1a1a1a">Ctrl3</text>
<line x1="85.4" y1="779.4" x2="85.4" y2="781.4" stroke="#333" stroke-width="0.7"/>
<text class="s" transform="translate(87.92,782) rotate(-90)" font-size="7" text-anchor="end" fill="#1a1a1a">KO1</text>
<line x1="101.65" y1="779.4" x2="101.65" y2="781.4" stroke="#333" stroke-width="0.7"/>
<text class="s" transform="translate(104.17,782) rotate(-90)" font-size="7" text-anchor="end" fill="#1a1a1a">KO2</text>
<line x1="117.65" y1="779.4" x2="117.65" y2="781.4" stroke="#333" stroke-width="0.7"/>
<text class="s" transform="translate(120.17,782) rotate(-90)" font-size="7" text-anchor="end" fill="#1a1a1a">KO3</text>
<text class="s" x="52.7" y="677.04" font-size="7.6" text-anchor="middle" font-style="italic" fill="#1a1a1a">mir-802<tspan font-size="3.95" dy="-2.74">fl/fl</tspan></text>
<text class="s" x="101.2" y="668.24" font-size="7.6" text-anchor="middle" font-style="italic" fill="#1a1a1a">Vil-Cre</text>
<text class="s" x="101" y="677.04" font-size="7.6" text-anchor="middle" font-style="italic" fill="#1a1a1a">mir-802<tspan font-size="3.95" dy="-2.74">fl/fl</tspan></text>
<line x1="29.1" y1="679.4" x2="75.5" y2="679.4" stroke="#444" stroke-width="0.9"/>
<line x1="78.2" y1="679.4" x2="125.4" y2="679.4" stroke="#444" stroke-width="0.9"/>
<text x="127.4" y="677.36" font-size="6" text-anchor="start" fill="#1a1a1a">p-value</text>
<line x1="127.4" y1="678.6" x2="147.7" y2="678.6" stroke="#444" stroke-width="0.8"/>
<defs><linearGradient id="cb" x1="0" y1="0" x2="0" y2="1"><stop offset="0" stop-color="#d7191c"/><stop offset="0.5" stop-color="#ffffff"/><stop offset="1" stop-color="#2b3f9e"/></linearGradient></defs>
<rect x="151.2" y="741" width="4.7" height="38.9" fill="url(#cb)" stroke="#333" stroke-width="0.4"/>
<text x="157.4" y="744.97" font-size="5.2" text-anchor="start" fill="#1a1a1a">1.0</text>
<text x="157.4" y="753.27" font-size="5.2" text-anchor="start" fill="#1a1a1a">0.5</text>
<text x="157.4" y="761.67" font-size="5.2" text-anchor="start" fill="#1a1a1a">0</text>
<text x="157.4" y="770.37" font-size="5.2" text-anchor="start" fill="#1a1a1a">-0.5</text>
<text x="157.4" y="778.77" font-size="5.2" text-anchor="start" fill="#1a1a1a">-1.0</text>
<text transform="translate(174.4,772.5) rotate(-90)" font-size="5.2" text-anchor="middle" fill="#1a1a1a">log<tspan font-size="3.4" dy="1.2">2</tspan><tspan dy="-1.2">FC</tspan></text>
<text x="207.3" y="643.2" font-size="16.3" fill="#111">n</text>
<line x1="228.3" y1="680.98" x2="228.3" y2="778.9" stroke="#4a4a4a" stroke-width="1.0"/>
<line x1="226.1" y1="778.9" x2="228.3" y2="778.9" stroke="#4a4a4a" stroke-width="0.9"/>
<text class="s" x="224.55" y="781.92" font-size="7" text-anchor="end" fill="#1a1a1a">0</text>
<line x1="226.1" y1="754.42" x2="228.3" y2="754.42" stroke="#4a4a4a" stroke-width="0.9"/>
<text class="s" x="224.55" y="757.44" font-size="7" text-anchor="end" fill="#1a1a1a">2</text>
<line x1="226.1" y1="729.94" x2="228.3" y2="729.94" stroke="#4a4a4a" stroke-width="0.9"/>
<text class="s" x="224.55" y="732.96" font-size="7" text-anchor="end" fill="#1a1a1a">4</text>
<line x1="226.1" y1="705.46" x2="228.3" y2="705.46" stroke="#4a4a4a" stroke-width="0.9"/>
<text class="s" x="224.55" y="708.48" font-size="7" text-anchor="end" fill="#1a1a1a">6</text>
<line x1="226.1" y1="680.98" x2="228.3" y2="680.98" stroke="#4a4a4a" stroke-width="0.9"/>
<text class="s" x="224.55" y="684" font-size="7" text-anchor="end" fill="#1a1a1a">8</text>
<line x1="228.3" y1="778.9" x2="390.5" y2="778.9" stroke="#4a4a4a" stroke-width="0.9"/>
<line x1="282.4" y1="778.9" x2="282.4" y2="780.9" stroke="#4a4a4a" stroke-width="0.9"/>
<line x1="335.9" y1="778.9" x2="335.9" y2="780.9" stroke="#4a4a4a" stroke-width="0.9"/>
<rect x="233.8" y="753.44" width="10.3" height="25.46" fill="#5f5f5f" stroke="#2a2a2a" stroke-width="0.8"/>
<line x1="238.95" y1="743.4" x2="238.95" y2="763.48" stroke="#333" stroke-width="0.7"/>
<line x1="236.55" y1="743.4" x2="241.35" y2="743.4" stroke="#333" stroke-width="0.7"/>
<line x1="236.55" y1="763.48" x2="241.35" y2="763.48" stroke="#333" stroke-width="0.7"/>
<rect x="249.1" y="751.12" width="10.3" height="27.78" fill="#3a55b0" stroke="#2a2a2a" stroke-width="0.8"/>
<line x1="254.25" y1="739.12" x2="254.25" y2="763.11" stroke="#333" stroke-width="0.7"/>
<line x1="251.85" y1="739.12" x2="256.65" y2="739.12" stroke="#333" stroke-width="0.7"/>
<line x1="251.85" y1="763.11" x2="256.65" y2="763.11" stroke="#333" stroke-width="0.7"/>
<rect x="264.3" y="770.58" width="10.3" height="8.32" fill="#e0282a" stroke="#2a2a2a" stroke-width="0.8"/>
<line x1="269.45" y1="765.44" x2="269.45" y2="775.72" stroke="#333" stroke-width="0.7"/>
<line x1="267.05" y1="765.44" x2="271.85" y2="765.44" stroke="#333" stroke-width="0.7"/>
<line x1="267.05" y1="775.72" x2="271.85" y2="775.72" stroke="#333" stroke-width="0.7"/>
<rect x="289.3" y="753.2" width="10.3" height="25.7" fill="#5f5f5f" stroke="#2a2a2a" stroke-width="0.8"/>
<line x1="294.45" y1="748.3" x2="294.45" y2="758.09" stroke="#333" stroke-width="0.7"/>
<line x1="292.05" y1="748.3" x2="296.85" y2="748.3" stroke="#333" stroke-width="0.7"/>
<line x1="292.05" y1="758.09" x2="296.85" y2="758.09" stroke="#333" stroke-width="0.7"/>
<rect x="304.6" y="753.2" width="10.2" height="25.7" fill="#3a55b0" stroke="#2a2a2a" stroke-width="0.8"/>
<line x1="309.7" y1="748.3" x2="309.7" y2="758.09" stroke="#333" stroke-width="0.7"/>
<line x1="307.3" y1="748.3" x2="312.1" y2="748.3" stroke="#333" stroke-width="0.7"/>
<line x1="307.3" y1="758.09" x2="312.1" y2="758.09" stroke="#333" stroke-width="0.7"/>
<rect x="319.8" y="769.72" width="10.3" height="9.18" fill="#e0282a" stroke="#2a2a2a" stroke-width="0.8"/>
<line x1="324.95" y1="768.5" x2="324.95" y2="770.94" stroke="#333" stroke-width="0.7"/>
<line x1="322.55" y1="768.5" x2="327.35" y2="768.5" stroke="#333" stroke-width="0.7"/>
<line x1="322.55" y1="770.94" x2="327.35" y2="770.94" stroke="#333" stroke-width="0.7"/>
<rect x="344.8" y="744.26" width="10.3" height="34.64" fill="#5f5f5f" stroke="#2a2a2a" stroke-width="0.8"/>
<line x1="349.95" y1="726.27" x2="349.95" y2="762.25" stroke="#333" stroke-width="0.7"/>
<line x1="347.55" y1="726.27" x2="352.35" y2="726.27" stroke="#333" stroke-width="0.7"/>
<line x1="347.55" y1="762.25" x2="352.35" y2="762.25" stroke="#333" stroke-width="0.7"/>
<rect x="360" y="748.91" width="10.3" height="29.99" fill="#3a55b0" stroke="#2a2a2a" stroke-width="0.8"/>
<line x1="365.15" y1="738.51" x2="365.15" y2="759.32" stroke="#333" stroke-width="0.7"/>
<line x1="362.75" y1="738.51" x2="367.55" y2="738.51" stroke="#333" stroke-width="0.7"/>
<line x1="362.75" y1="759.32" x2="367.55" y2="759.32" stroke="#333" stroke-width="0.7"/>
<rect x="375.2" y="766.66" width="10.3" height="12.24" fill="#e0282a" stroke="#2a2a2a" stroke-width="0.8"/>
<line x1="380.35" y1="759.32" x2="380.35" y2="774" stroke="#333" stroke-width="0.7"/>
<line x1="377.95" y1="759.32" x2="382.75" y2="759.32" stroke="#333" stroke-width="0.7"/>
<line x1="377.95" y1="774" x2="382.75" y2="774" stroke="#333" stroke-width="0.7"/>
<circle cx="238.95" cy="734.84" r="1.15" fill="#111"/>
<circle cx="236.35" cy="743.4" r="1.15" fill="#111"/>
<circle cx="241.55" cy="748.3" r="1.15" fill="#111"/>
<circle cx="237.65" cy="751.97" r="1.15" fill="#111"/>
<circle cx="240.25" cy="754.42" r="1.15" fill="#111"/>
<circle cx="235.95" cy="756.87" r="1.15" fill="#111"/>
<circle cx="241.95" cy="760.54" r="1.15" fill="#111"/>
<circle cx="237.15" cy="762.99" r="1.15" fill="#111"/>
<circle cx="240.75" cy="767.88" r="1.15" fill="#111"/>
<circle cx="254.25" cy="729.94" r="1.15" fill="#111"/>
<circle cx="251.65" cy="738.51" r="1.15" fill="#111"/>
<circle cx="256.85" cy="743.4" r="1.15" fill="#111"/>
<circle cx="252.95" cy="748.3" r="1.15" fill="#111"/>
<circle cx="255.55" cy="753.2" r="1.15" fill="#111"/>
<circle cx="251.25" cy="755.64" r="1.15" fill="#111"/>
<circle cx="257.25" cy="759.32" r="1.15" fill="#111"/>
<circle cx="252.45" cy="764.21" r="1.15" fill="#111"/>
<circle cx="256.05" cy="769.11" r="1.15" fill="#111"/>
<circle cx="269.45" cy="761.76" r="1.15" fill="#111"/>
<circle cx="266.85" cy="765.44" r="1.15" fill="#111"/>
<circle cx="272.05" cy="767.88" r="1.15" fill="#111"/>
<circle cx="268.15" cy="769.11" r="1.15" fill="#111"/>
<circle cx="270.75" cy="771.56" r="1.15" fill="#111"/>
<circle cx="266.45" cy="772.78" r="1.15" fill="#111"/>
<circle cx="272.45" cy="774" r="1.15" fill="#111"/>
<circle cx="267.65" cy="775.23" r="1.15" fill="#111"/>
<circle cx="271.25" cy="776.45" r="1.15" fill="#111"/>
<circle cx="294.45" cy="745.85" r="1.15" fill="#111"/>
<circle cx="291.85" cy="747.08" r="1.15" fill="#111"/>
<circle cx="297.05" cy="749.52" r="1.15" fill="#111"/>
<circle cx="293.15" cy="751.97" r="1.15" fill="#111"/>
<circle cx="295.75" cy="753.2" r="1.15" fill="#111"/>
<circle cx="291.45" cy="754.42" r="1.15" fill="#111"/>
<circle cx="297.45" cy="755.64" r="1.15" fill="#111"/>
<circle cx="292.65" cy="758.09" r="1.15" fill="#111"/>
<circle cx="296.25" cy="759.32" r="1.15" fill="#111"/>
<circle cx="309.7" cy="743.4" r="1.15" fill="#111"/>
<circle cx="307.1" cy="745.85" r="1.15" fill="#111"/>
<circle cx="312.3" cy="749.52" r="1.15" fill="#111"/>
<circle cx="308.4" cy="751.97" r="1.15" fill="#111"/>
<circle cx="311" cy="753.2" r="1.15" fill="#111"/>
<circle cx="306.7" cy="755.64" r="1.15" fill="#111"/>
<circle cx="312.7" cy="758.09" r="1.15" fill="#111"/>
<circle cx="307.9" cy="760.54" r="1.15" fill="#111"/>
<circle cx="311.5" cy="761.76" r="1.15" fill="#111"/>
<circle cx="324.95" cy="767.88" r="1.15" fill="#111"/>
<circle cx="322.35" cy="768.5" r="1.15" fill="#111"/>
<circle cx="327.55" cy="769.11" r="1.15" fill="#111"/>
<circle cx="323.65" cy="769.72" r="1.15" fill="#111"/>
<circle cx="326.25" cy="770.33" r="1.15" fill="#111"/>
<circle cx="321.95" cy="770.33" r="1.15" fill="#111"/>
<circle cx="327.95" cy="770.94" r="1.15" fill="#111"/>
<circle cx="323.15" cy="771.56" r="1.15" fill="#111"/>
<circle cx="349.95" cy="707.91" r="1.15" fill="#111"/>
<circle cx="347.35" cy="726.27" r="1.15" fill="#111"/>
<circle cx="352.55" cy="743.4" r="1.15" fill="#111"/>
<circle cx="348.65" cy="748.3" r="1.15" fill="#111"/>
<circle cx="351.25" cy="751.97" r="1.15" fill="#111"/>
<circle cx="346.95" cy="753.2" r="1.15" fill="#111"/>
<circle cx="352.95" cy="754.42" r="1.15" fill="#111"/>
<circle cx="348.15" cy="755.64" r="1.15" fill="#111"/>
<circle cx="351.75" cy="759.32" r="1.15" fill="#111"/>
<circle cx="365.15" cy="723.82" r="1.15" fill="#111"/>
<circle cx="362.55" cy="743.4" r="1.15" fill="#111"/>
<circle cx="367.75" cy="745.85" r="1.15" fill="#111"/>
<circle cx="363.85" cy="747.08" r="1.15" fill="#111"/>
<circle cx="366.45" cy="749.52" r="1.15" fill="#111"/>
<circle cx="362.15" cy="750.75" r="1.15" fill="#111"/>
<circle cx="368.15" cy="751.97" r="1.15" fill="#111"/>
<circle cx="363.35" cy="753.2" r="1.15" fill="#111"/>
<circle cx="366.95" cy="754.42" r="1.15" fill="#111"/>
<circle cx="380.35" cy="749.52" r="1.15" fill="#111"/>
<circle cx="377.75" cy="756.87" r="1.15" fill="#111"/>
<circle cx="382.95" cy="759.32" r="1.15" fill="#111"/>
<circle cx="379.05" cy="764.21" r="1.15" fill="#111"/>
<circle cx="381.65" cy="766.66" r="1.15" fill="#111"/>
<circle cx="377.35" cy="769.11" r="1.15" fill="#111"/>
<circle cx="383.35" cy="771.56" r="1.15" fill="#111"/>
<circle cx="378.55" cy="774" r="1.15" fill="#111"/>
<circle cx="382.15" cy="775.23" r="1.15" fill="#111"/>
<polyline points="235.2,702.4 235.2,700.4 272.7,700.4 272.7,748.4" fill="none" stroke="#606060" stroke-width="0.8"/>
<polyline points="248.5,711 248.5,709 266.6,709 266.6,748.4" fill="none" stroke="#606060" stroke-width="0.8"/>
<polyline points="291.3,718 291.3,716 327.6,716 327.6,754" fill="none" stroke="#606060" stroke-width="0.8"/>
<polyline points="307.3,726.8 307.3,724.8 323.2,724.8 323.2,754.8" fill="none" stroke="#606060" stroke-width="0.8"/>
<polyline points="348.4,702.4 348.4,700.4 378.9,700.4 378.9,748.4" fill="none" stroke="#606060" stroke-width="0.8"/>
<polyline points="361.4,711 361.4,709 373.9,709 373.9,735.9" fill="none" stroke="#606060" stroke-width="0.8"/>
<text x="250.5" y="698.96" font-size="4.6" text-anchor="middle" fill="#1a1a1a">p= 0.002</text>
<text x="258.2" y="707.56" font-size="4.6" text-anchor="middle" fill="#1a1a1a">p= 0.0006</text>
<text x="307.3" y="714.16" font-size="4.6" text-anchor="middle" fill="#1a1a1a">p&lt; 0.0001</text>
<text x="313.7" y="723.06" font-size="4.6" text-anchor="middle" fill="#1a1a1a">p&lt; 0.0001</text>
<text x="362.8" y="698.96" font-size="4.6" text-anchor="middle" fill="#1a1a1a">p= 0.0023</text>
<text x="367" y="707.56" font-size="4.6" text-anchor="middle" fill="#1a1a1a">p= 0.012</text>
<text class="s" transform="translate(261,786) rotate(-45)" font-size="7.8" text-anchor="end" font-style="italic" fill="#1a1a1a">Sglt1</text>
<text class="s" transform="translate(314.5,786) rotate(-45)" font-size="7.8" text-anchor="end" font-style="italic" fill="#1a1a1a">Glut2</text>
<text class="s" transform="translate(363,786) rotate(-45)" font-size="7.8" text-anchor="end" font-style="italic" fill="#1a1a1a">Glut5</text>
<text class="s" transform="translate(214.05,735.2) rotate(-90)" font-size="6.8" text-anchor="middle" fill="#1a1a1a">Rel. mRNA expression</text>
<rect x="383.5" y="660.8" width="12" height="5.6" fill="#5f5f5f" stroke="#333" stroke-width="0.7"/>
<rect x="383.5" y="672.7" width="12" height="5.3" fill="#3a55b0" stroke="#333" stroke-width="0.7"/>
<rect x="383.5" y="684.4" width="12" height="5" fill="#e0282a" stroke="#333" stroke-width="0.7"/>
<text class="s" x="400.7" y="666.12" font-size="7" text-anchor="start" font-style="italic" fill="#1a1a1a">mir-802<tspan font-size="3.64" dy="-2.52">fl/fl</tspan></text>
<text class="s" x="400.7" y="678.02" font-size="7" text-anchor="start" font-style="italic" fill="#1a1a1a">Vil-Cre/+</text>
<text class="s" x="400.7" y="689.72" font-size="7" text-anchor="start" font-style="italic" fill="#1a1a1a">Vil-Cre mir-802<tspan font-size="3.64" dy="-2.52">fl/fl</tspan></text>
<text x="482.4" y="643.3" font-size="16.3" fill="#111">o</text>
<text class="s" x="553.3" y="675.89" font-size="7.2" text-anchor="middle" font-style="italic" fill="#1a1a1a">mir-802<tspan font-size="3.74" dy="-2.59">fl/fl</tspan></text>
<text class="s" x="625.2" y="675.89" font-size="7.2" text-anchor="middle" font-style="italic" fill="#1a1a1a">Vil-Cre mir-802<tspan font-size="3.74" dy="-2.59">fl/fl</tspan></text>
<line x1="520.4" y1="678.4" x2="587.8" y2="678.4" stroke="#444" stroke-width="0.8"/>
<line x1="591.3" y1="678.4" x2="659" y2="678.4" stroke="#444" stroke-width="0.8"/>
<text x="531.05" y="686.87" font-size="5.2" text-anchor="middle" fill="#1a1a1a">1.0</text>
<text x="531.05" y="711.47" font-size="5.2" text-anchor="middle" fill="#1a1a1a">1.0</text>
<text x="549.3" y="686.87" font-size="5.2" text-anchor="middle" fill="#1a1a1a">1.14</text>
<text x="549.3" y="711.47" font-size="5.2" text-anchor="middle" fill="#1a1a1a">1</text>
<text x="567.25" y="686.87" font-size="5.2" text-anchor="middle" fill="#1a1a1a">1.20</text>
<text x="567.25" y="711.47" font-size="5.2" text-anchor="middle" fill="#1a1a1a">1.23</text>
<text x="584.75" y="686.87" font-size="5.2" text-anchor="middle" fill="#1a1a1a">1.12</text>
<text x="584.75" y="711.47" font-size="5.2" text-anchor="middle" fill="#1a1a1a">1.29</text>
<text x="602.4" y="686.87" font-size="5.2" text-anchor="middle" fill="#1a1a1a">1.15</text>
<text x="602.4" y="711.47" font-size="5.2" text-anchor="middle" fill="#1a1a1a">1.35</text>
<text x="620.4" y="686.87" font-size="5.2" text-anchor="middle" fill="#1a1a1a">0.83</text>
<text x="620.4" y="711.47" font-size="5.2" text-anchor="middle" fill="#1a1a1a">1.26</text>
<text x="637.6" y="686.87" font-size="5.2" text-anchor="middle" fill="#1a1a1a">0.78</text>
<text x="637.6" y="711.47" font-size="5.2" text-anchor="middle" fill="#1a1a1a">1.15</text>
<text x="655.25" y="686.87" font-size="5.2" text-anchor="middle" fill="#1a1a1a">0.65</text>
<text x="655.25" y="711.47" font-size="5.2" text-anchor="middle" fill="#1a1a1a">1.18</text>
<defs><filter id="bl" x="-20%" y="-100%" width="140%" height="300%"><feGaussianBlur stdDeviation="0.6"/></filter></defs>
<rect x="521" y="690.5" width="142" height="10.5" fill="#f6f6f6" filter="url(#bl)"/>
<rect x="521" y="714.5" width="142" height="8" fill="#f7f7f7" filter="url(#bl)"/>
<rect x="523.6" y="692.6" width="13.6" height="6.4" rx="1.2" fill="#111" fill-opacity="0.3" filter="url(#bl)"/>
<rect x="523.6" y="693.0" width="13.6" height="2.0" rx="1" fill="#111" fill-opacity="0.55" filter="url(#bl)"/>
<rect x="523.6" y="696.2" width="13.6" height="2.5" rx="1" fill="#111" fill-opacity="0.65" filter="url(#bl)"/>
<rect x="541.2" y="692.6" width="13.9" height="6.4" rx="1.2" fill="#111" fill-opacity="0.27" filter="url(#bl)"/>
<rect x="541.2" y="693.0" width="13.9" height="2.0" rx="1" fill="#111" fill-opacity="0.3" filter="url(#bl)"/>
<rect x="541.2" y="696.2" width="13.9" height="2.5" rx="1" fill="#111" fill-opacity="0.95" filter="url(#bl)"/>
<rect x="558.9" y="692.6" width="13.8" height="6.4" rx="1.2" fill="#111" fill-opacity="0.33" filter="url(#bl)"/>
<rect x="558.9" y="693.0" width="13.8" height="2.0" rx="1" fill="#111" fill-opacity="0.75" filter="url(#bl)"/>
<rect x="558.9" y="696.2" width="13.8" height="2.5" rx="1" fill="#111" fill-opacity="0.85" filter="url(#bl)"/>
<rect x="577.2" y="692.6" width="13.6" height="6.4" rx="1.2" fill="#111" fill-opacity="0.32" filter="url(#bl)"/>
<rect x="577.2" y="693.0" width="13.6" height="2.0" rx="1" fill="#111" fill-opacity="0.68" filter="url(#bl)"/>
<rect x="577.2" y="696.2" width="13.6" height="2.5" rx="1" fill="#111" fill-opacity="0.85" filter="url(#bl)"/>
<rect x="595.1" y="692.6" width="13.9" height="6.4" rx="1.2" fill="#111" fill-opacity="0.31" filter="url(#bl)"/>
<rect x="595.1" y="693.0" width="13.9" height="2.0" rx="1" fill="#111" fill-opacity="0.58" filter="url(#bl)"/>
<rect x="595.1" y="696.2" width="13.9" height="2.5" rx="1" fill="#111" fill-opacity="0.85" filter="url(#bl)"/>
<rect x="613" y="692.6" width="13.4" height="6.4" rx="1.2" fill="#111" fill-opacity="0.29" filter="url(#bl)"/>
<rect x="613" y="693.0" width="13.4" height="2.0" rx="1" fill="#111" fill-opacity="0.68" filter="url(#bl)"/>
<rect x="613" y="696.2" width="13.4" height="2.5" rx="1" fill="#111" fill-opacity="0.45" filter="url(#bl)"/>
<rect x="630.4" y="692.6" width="14.5" height="6.4" rx="1.2" fill="#111" fill-opacity="0.29" filter="url(#bl)"/>
<rect x="630.4" y="693.0" width="14.5" height="2.0" rx="1" fill="#111" fill-opacity="0.75" filter="url(#bl)"/>
<rect x="630.4" y="696.2" width="14.5" height="2.5" rx="1" fill="#111" fill-opacity="0.45" filter="url(#bl)"/>
<rect x="648.9" y="692.6" width="12" height="6.4" rx="1.2" fill="#111" fill-opacity="0.25" filter="url(#bl)"/>
<rect x="648.9" y="693.0" width="12" height="2.0" rx="1" fill="#111" fill-opacity="0.65" filter="url(#bl)"/>
<rect x="648.9" y="696.2" width="12" height="2.5" rx="1" fill="#111" fill-opacity="0.2" filter="url(#bl)"/>
<rect x="523.5" y="716.9" width="15.1" height="3.9" rx="1.9" fill="#0a0a0a" filter="url(#bl)"/>
<rect x="540.8" y="716.9" width="14.7" height="3.9" rx="1.9" fill="#0a0a0a" filter="url(#bl)"/>
<rect x="558.3" y="716.9" width="14.7" height="3.9" rx="1.9" fill="#0a0a0a" filter="url(#bl)"/>
<rect x="576" y="716.9" width="15" height="3.9" rx="1.9" fill="#0a0a0a" filter="url(#bl)"/>
<rect x="593.5" y="716.9" width="14.5" height="3.9" rx="1.9" fill="#0a0a0a" filter="url(#bl)"/>
<rect x="610.6" y="716.9" width="14" height="3.9" rx="1.9" fill="#0a0a0a" filter="url(#bl)"/>
<rect x="627.8" y="716.9" width="13.6" height="3.9" rx="1.9" fill="#0a0a0a" filter="url(#bl)"/>
<path d="M645.6,718.6 L652,717.6 L658.4,714.6" fill="none" stroke="#0a0a0a" stroke-width="3.6" stroke-linecap="round" filter="url(#bl)"/>
<text class="s" x="492.6" y="698.1" font-size="7.8" style="font-family:'Liberation Serif',serif" fill="#1a1a1a">GLUT2</text>
<text class="s" x="483.0" y="721.5" font-size="7.5" style="font-family:'Liberation Serif',serif" fill="#1a1a1a">γ-TUBULIN</text>
<line x1="664" y1="692" x2="668" y2="692" stroke="#333" stroke-width="0.8"/>
<text class="s" x="670" y="694.52" font-size="7" text-anchor="start" fill="#1a1a1a">72</text>
<line x1="664" y1="715.4" x2="668" y2="715.4" stroke="#333" stroke-width="0.8"/>
<text class="s" x="670" y="717.92" font-size="7" text-anchor="start" fill="#1a1a1a">55</text>
<line x1="535" y1="736.3" x2="535" y2="797.2" stroke="#4a4a4a" stroke-width="1.0"/>
<line x1="532.6" y1="797.2" x2="535" y2="797.2" stroke="#4a4a4a" stroke-width="0.9"/>
<text x="532.15" y="799.36" font-size="4.6" text-anchor="end" fill="#1a1a1a">0.0</text>
<line x1="532.6" y1="776.9" x2="535" y2="776.9" stroke="#4a4a4a" stroke-width="0.9"/>
<text x="532.15" y="779.06" font-size="4.6" text-anchor="end" fill="#1a1a1a">0.5</text>
<line x1="532.6" y1="756.6" x2="535" y2="756.6" stroke="#4a4a4a" stroke-width="0.9"/>
<text x="532.15" y="758.76" font-size="4.6" text-anchor="end" fill="#1a1a1a">1.0</text>
<line x1="532.6" y1="736.3" x2="535" y2="736.3" stroke="#4a4a4a" stroke-width="0.9"/>
<text x="532.15" y="738.46" font-size="4.6" text-anchor="end" fill="#1a1a1a">1.5</text>
<line x1="535" y1="797.2" x2="574.8" y2="797.2" stroke="#4a4a4a" stroke-width="0.9"/>
<line x1="555.3" y1="797.2" x2="555.3" y2="799.8" stroke="#4a4a4a" stroke-width="0.9"/>
<rect x="540.9" y="757.01" width="11.1" height="40.19" fill="#5f5f5f" stroke="#2a2a2a" stroke-width="0.8"/>
<rect x="558" y="769.59" width="10.9" height="27.61" fill="#e0282a" stroke="#2a2a2a" stroke-width="0.8"/>
<line x1="546.6" y1="752" x2="546.6" y2="762.4" stroke="#222" stroke-width="0.8"/>
<line x1="544.2" y1="752" x2="549" y2="752" stroke="#222" stroke-width="0.8"/>
<line x1="544.2" y1="762.4" x2="549" y2="762.4" stroke="#222" stroke-width="0.8"/>
<line x1="563.4" y1="764.4" x2="563.4" y2="774.6" stroke="#222" stroke-width="0.8"/>
<line x1="561" y1="764.4" x2="565.8" y2="764.4" stroke="#222" stroke-width="0.8"/>
<line x1="561" y1="774.6" x2="565.8" y2="774.6" stroke="#222" stroke-width="0.8"/>
<circle cx="546.6" cy="752" r="1.1" fill="#111"/>
<circle cx="546.6" cy="757.6" r="1.1" fill="#111"/>
<circle cx="546.6" cy="762.2" r="1.1" fill="#111"/>
<circle cx="563.4" cy="765" r="1.1" fill="#111"/>
<circle cx="563.4" cy="770.5" r="1.1" fill="#111"/>
<circle cx="563.4" cy="775" r="1.1" fill="#111"/>
<polyline points="546.5,745.7 546.5,742.5 565.4,742.5 565.4,745.7" fill="none" stroke="#333" stroke-width="0.7"/>
<text x="556.6" y="739.88" font-size="5.5" text-anchor="middle" fill="#1a1a1a">p= 0.010</text>
<text class="s" transform="translate(522.3,764.7) rotate(-90)" font-size="5" text-anchor="middle" fill="#1a1a1a">GLUT2/ γ-TUBULIN</text>
<rect x="581.6" y="737.9" width="10.1" height="4.8" fill="#5f5f5f" stroke="#333" stroke-width="0.7"/>
<rect x="581.6" y="747.7" width="10.1" height="4.9" fill="#e0282a" stroke="#333" stroke-width="0.7"/>
<text class="s" x="595.2" y="742.96" font-size="7.4" text-anchor="start" font-style="italic" fill="#1a1a1a">mir-802<tspan font-size="3.85" dy="-2.66">fl/fl</tspan></text>
<text class="s" x="595.2" y="752.76" font-size="7.4" text-anchor="start" font-style="italic" fill="#1a1a1a">Vil-Cre miR-802<tspan font-size="3.85" dy="-2.66">fl/fl</tspan></text>
</svg></body></html>
